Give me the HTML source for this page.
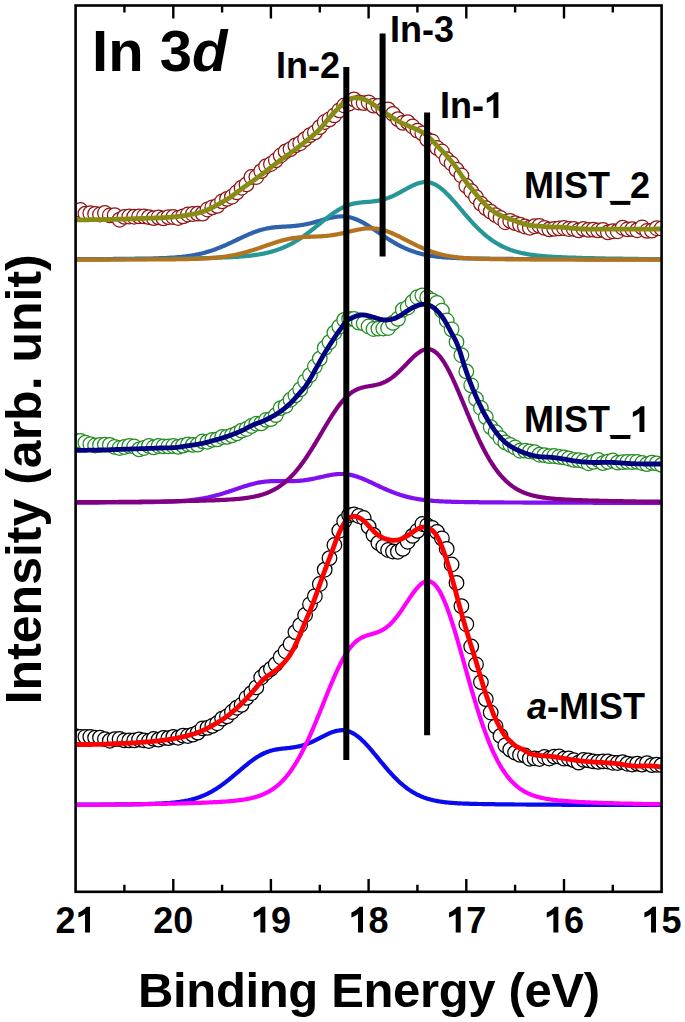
<!DOCTYPE html>
<html><head><meta charset="utf-8"><title>In 3d XPS</title>
<style>
html,body{margin:0;padding:0;background:#fff;}
svg{display:block;}
text{font-family:"Liberation Sans",sans-serif;font-weight:bold;fill:#000;}
</style></head>
<body>
<svg width="685" height="1022" viewBox="0 0 685 1022">
<rect x="0" y="0" width="685" height="1022" fill="#fff"/>
<defs><clipPath id="pc"><rect x="75.6" y="5.5" width="586" height="886.3"/></clipPath></defs>
<path d="M75.6 259.2 L76.6 259.1 L77.6 259.1 L78.6 259.1 L79.6 259.1 L80.6 259.1 L81.6 259.1 L82.6 259.1 L83.6 259.1 L84.6 259.1 L85.6 259.1 L86.6 259.1 L87.6 259.1 L88.6 259.1 L89.6 259.1 L90.6 259.1 L91.6 259.1 L92.6 259.1 L93.6 259.1 L94.6 259.1 L95.6 259.1 L96.6 259.1 L97.6 259.0 L98.6 259.0 L99.6 259.0 L100.6 259.0 L101.6 259.0 L102.6 259.0 L103.6 259.0 L104.6 259.0 L105.6 259.0 L106.6 259.0 L107.6 259.0 L108.6 259.0 L109.6 259.0 L110.6 259.0 L111.6 259.0 L112.6 259.0 L113.6 258.9 L114.6 258.9 L115.6 258.9 L116.6 258.9 L117.6 258.9 L118.6 258.9 L119.6 258.9 L120.6 258.9 L121.6 258.9 L122.6 258.9 L123.6 258.9 L124.6 258.9 L125.6 258.9 L126.6 258.8 L127.6 258.8 L128.6 258.8 L129.6 258.8 L130.6 258.8 L131.6 258.8 L132.6 258.8 L133.6 258.8 L134.6 258.8 L135.6 258.7 L136.6 258.7 L137.6 258.7 L138.6 258.7 L139.6 258.7 L140.6 258.7 L141.6 258.7 L142.6 258.6 L143.6 258.6 L144.6 258.6 L145.6 258.6 L146.6 258.6 L147.6 258.6 L148.6 258.5 L149.6 258.5 L150.6 258.5 L151.6 258.5 L152.6 258.5 L153.6 258.4 L154.6 258.4 L155.6 258.4 L156.6 258.3 L157.6 258.3 L158.6 258.3 L159.6 258.2 L160.6 258.2 L161.6 258.2 L162.6 258.1 L163.6 258.1 L164.6 258.1 L165.6 258.0 L166.6 258.0 L167.6 257.9 L168.6 257.9 L169.6 257.8 L170.6 257.7 L171.6 257.7 L172.6 257.6 L173.6 257.5 L174.6 257.5 L175.6 257.4 L176.6 257.3 L177.6 257.2 L178.6 257.1 L179.6 257.1 L180.6 257.0 L181.6 256.9 L182.6 256.7 L183.6 256.6 L184.6 256.5 L185.6 256.4 L186.6 256.3 L187.6 256.1 L188.6 256.0 L189.6 255.8 L190.6 255.7 L191.6 255.5 L192.6 255.3 L193.6 255.2 L194.6 255.0 L195.6 254.8 L196.6 254.6 L197.6 254.4 L198.6 254.2 L199.6 253.9 L200.6 253.7 L201.6 253.5 L202.6 253.2 L203.6 253.0 L204.6 252.7 L205.6 252.4 L206.6 252.1 L207.6 251.8 L208.6 251.5 L209.6 251.2 L210.6 250.9 L211.6 250.6 L212.6 250.2 L213.6 249.9 L214.6 249.5 L215.6 249.2 L216.6 248.8 L217.6 248.4 L218.6 248.0 L219.6 247.6 L220.6 247.2 L221.6 246.8 L222.6 246.4 L223.6 246.0 L224.6 245.5 L225.6 245.1 L226.6 244.6 L227.6 244.2 L228.6 243.7 L229.6 243.3 L230.6 242.8 L231.6 242.4 L232.6 241.9 L233.6 241.4 L234.6 240.9 L235.6 240.5 L236.6 240.0 L237.6 239.5 L238.6 239.0 L239.6 238.5 L240.6 238.1 L241.6 237.6 L242.6 237.1 L243.6 236.7 L244.6 236.2 L245.6 235.8 L246.6 235.3 L247.6 234.9 L248.6 234.4 L249.6 234.0 L250.6 233.6 L251.6 233.2 L252.6 232.8 L253.6 232.4 L254.6 232.0 L255.6 231.7 L256.6 231.3 L257.6 231.0 L258.6 230.6 L259.6 230.3 L260.6 230.0 L261.6 229.7 L262.6 229.5 L263.6 229.2 L264.6 229.0 L265.6 228.8 L266.6 228.5 L267.6 228.3 L268.6 228.2 L269.6 228.0 L270.6 227.8 L271.6 227.7 L272.6 227.6 L273.6 227.4 L274.6 227.3 L275.6 227.2 L276.6 227.1 L277.6 227.1 L278.6 227.0 L279.6 226.9 L280.6 226.8 L281.6 226.8 L282.6 226.7 L283.6 226.7 L284.6 226.6 L285.6 226.6 L286.6 226.5 L287.6 226.4 L288.6 226.4 L289.6 226.3 L290.6 226.3 L291.6 226.2 L292.6 226.1 L293.6 226.0 L294.6 225.9 L295.6 225.8 L296.6 225.7 L297.6 225.6 L298.6 225.5 L299.6 225.3 L300.6 225.2 L301.6 225.0 L302.6 224.9 L303.6 224.7 L304.6 224.5 L305.6 224.3 L306.6 224.1 L307.6 223.9 L308.6 223.7 L309.6 223.5 L310.6 223.2 L311.6 223.0 L312.6 222.7 L313.6 222.4 L314.6 222.2 L315.6 221.9 L316.6 221.6 L317.6 221.3 L318.6 221.0 L319.6 220.8 L320.6 220.5 L321.6 220.2 L322.6 219.9 L323.6 219.6 L324.6 219.3 L325.6 219.0 L326.6 218.8 L327.6 218.5 L328.6 218.3 L329.6 218.0 L330.6 217.8 L331.6 217.6 L332.6 217.4 L333.6 217.2 L334.6 217.0 L335.6 216.9 L336.6 216.7 L337.6 216.6 L338.6 216.5 L339.6 216.5 L340.6 216.4 L341.6 216.4 L342.6 216.4 L343.6 216.5 L344.6 216.5 L345.6 216.6 L346.6 216.7 L347.6 216.9 L348.6 217.1 L349.6 217.3 L350.6 217.5 L351.6 217.8 L352.6 218.1 L353.6 218.4 L354.6 218.8 L355.6 219.1 L356.6 219.5 L357.6 220.0 L358.6 220.4 L359.6 220.9 L360.6 221.4 L361.6 221.9 L362.6 222.4 L363.6 223.0 L364.6 223.5 L365.6 224.1 L366.6 224.7 L367.6 225.3 L368.6 226.0 L369.6 226.6 L370.6 227.2 L371.6 227.9 L372.6 228.6 L373.6 229.2 L374.6 229.9 L375.6 230.6 L376.6 231.3 L377.6 231.9 L378.6 232.6 L379.6 233.3 L380.6 234.0 L381.6 234.6 L382.6 235.3 L383.6 236.0 L384.6 236.7 L385.6 237.3 L386.6 238.0 L387.6 238.6 L388.6 239.3 L389.6 239.9 L390.6 240.5 L391.6 241.1 L392.6 241.7 L393.6 242.3 L394.6 242.9 L395.6 243.5 L396.6 244.0 L397.6 244.6 L398.6 245.1 L399.6 245.6 L400.6 246.2 L401.6 246.7 L402.6 247.1 L403.6 247.6 L404.6 248.1 L405.6 248.5 L406.6 248.9 L407.6 249.4 L408.6 249.8 L409.6 250.2 L410.6 250.5 L411.6 250.9 L412.6 251.3 L413.6 251.6 L414.6 251.9 L415.6 252.3 L416.6 252.6 L417.6 252.9 L418.6 253.1 L419.6 253.4 L420.6 253.7 L421.6 253.9 L422.6 254.2 L423.6 254.4 L424.6 254.6 L425.6 254.8 L426.6 255.0 L427.6 255.2 L428.6 255.4 L429.6 255.6 L430.6 255.7 L431.6 255.9 L432.6 256.0 L433.6 256.2 L434.6 256.3 L435.6 256.4 L436.6 256.6 L437.6 256.7 L438.6 256.8 L439.6 256.9 L440.6 257.0 L441.6 257.1 L442.6 257.2 L443.6 257.3 L444.6 257.3 L445.6 257.4 L446.6 257.5 L447.6 257.6 L448.6 257.6 L449.6 257.7 L450.6 257.7 L451.6 257.8 L452.6 257.9 L453.6 257.9 L454.6 257.9 L455.6 258.0 L456.6 258.0 L457.6 258.1 L458.6 258.1 L459.6 258.2 L460.6 258.2 L461.6 258.2 L462.6 258.3 L463.6 258.3 L464.6 258.3 L465.6 258.3 L466.6 258.4 L467.6 258.4 L468.6 258.4 L469.6 258.4 L470.6 258.5 L471.6 258.5 L472.6 258.5 L473.6 258.5 L474.6 258.5 L475.6 258.5 L476.6 258.6 L477.6 258.6 L478.6 258.6 L479.6 258.6 L480.6 258.6 L481.6 258.6 L482.6 258.7 L483.6 258.7 L484.6 258.7 L485.6 258.7 L486.6 258.7 L487.6 258.7 L488.6 258.7 L489.6 258.7 L490.6 258.8 L491.6 258.8 L492.6 258.8 L493.6 258.8 L494.6 258.8 L495.6 258.8 L496.6 258.8 L497.6 258.8 L498.6 258.8 L499.6 258.8 L500.6 258.9 L501.6 258.9 L502.6 258.9 L503.6 258.9 L504.6 258.9 L505.6 258.9 L506.6 258.9 L507.6 258.9 L508.6 258.9 L509.6 258.9 L510.6 258.9 L511.6 258.9 L512.6 258.9 L513.6 259.0 L514.6 259.0 L515.6 259.0 L516.6 259.0 L517.6 259.0 L518.6 259.0 L519.6 259.0 L520.6 259.0 L521.6 259.0 L522.6 259.0 L523.6 259.0 L524.6 259.0 L525.6 259.0 L526.6 259.0 L527.6 259.0 L528.6 259.0 L529.6 259.0 L530.6 259.1 L531.6 259.1 L532.6 259.1 L533.6 259.1 L534.6 259.1 L535.6 259.1 L536.6 259.1 L537.6 259.1 L538.6 259.1 L539.6 259.1 L540.6 259.1 L541.6 259.1 L542.6 259.1 L543.6 259.1 L544.6 259.1 L545.6 259.1 L546.6 259.1 L547.6 259.1 L548.6 259.1 L549.6 259.1 L550.6 259.1 L551.6 259.1 L552.6 259.2 L553.6 259.2 L554.6 259.2 L555.6 259.2 L556.6 259.2 L557.6 259.2 L558.6 259.2 L559.6 259.2 L560.6 259.2 L561.6 259.2 L562.6 259.2 L563.6 259.2 L564.6 259.2 L565.6 259.2 L566.6 259.2 L567.6 259.2 L568.6 259.2 L569.6 259.2 L570.6 259.2 L571.6 259.2 L572.6 259.2 L573.6 259.2 L574.6 259.2 L575.6 259.2 L576.6 259.2 L577.6 259.2 L578.6 259.2 L579.6 259.2 L580.6 259.2 L581.6 259.2 L582.6 259.2 L583.6 259.3 L584.6 259.3 L585.6 259.3 L586.6 259.3 L587.6 259.3 L588.6 259.3 L589.6 259.3 L590.6 259.3 L591.6 259.3 L592.6 259.3 L593.6 259.3 L594.6 259.3 L595.6 259.3 L596.6 259.3 L597.6 259.3 L598.6 259.3 L599.6 259.3 L600.6 259.3 L601.6 259.3 L602.6 259.3 L603.6 259.3 L604.6 259.3 L605.6 259.3 L606.6 259.3 L607.6 259.3 L608.6 259.3 L609.6 259.3 L610.6 259.3 L611.6 259.3 L612.6 259.3 L613.6 259.3 L614.6 259.3 L615.6 259.3 L616.6 259.3 L617.6 259.3 L618.6 259.3 L619.6 259.3 L620.6 259.3 L621.6 259.3 L622.6 259.3 L623.6 259.3 L624.6 259.3 L625.6 259.3 L626.6 259.3 L627.6 259.3 L628.6 259.3 L629.6 259.3 L630.6 259.3 L631.6 259.4 L632.6 259.4 L633.6 259.4 L634.6 259.4 L635.6 259.4 L636.6 259.4 L637.6 259.4 L638.6 259.4 L639.6 259.4 L640.6 259.4 L641.6 259.4 L642.6 259.4 L643.6 259.4 L644.6 259.4 L645.6 259.4 L646.6 259.4 L647.6 259.4 L648.6 259.4 L649.6 259.4 L650.6 259.4 L651.6 259.4 L652.6 259.4 L653.6 259.4 L654.6 259.4 L655.6 259.4 L656.6 259.4 L657.6 259.4 L658.6 259.4 L659.6 259.4 L660.6 259.4 L661.6 259.4" fill="none" stroke="#2e62ac" stroke-width="4.2" stroke-linejoin="round" stroke-linecap="butt"/>
<path d="M75.6 259.6 L76.6 259.5 L77.6 259.5 L78.6 259.5 L79.6 259.5 L80.6 259.5 L81.6 259.5 L82.6 259.5 L83.6 259.5 L84.6 259.5 L85.6 259.5 L86.6 259.5 L87.6 259.5 L88.6 259.5 L89.6 259.5 L90.6 259.5 L91.6 259.5 L92.6 259.5 L93.6 259.5 L94.6 259.5 L95.6 259.4 L96.6 259.4 L97.6 259.4 L98.6 259.4 L99.6 259.4 L100.6 259.4 L101.6 259.4 L102.6 259.4 L103.6 259.4 L104.6 259.4 L105.6 259.4 L106.6 259.4 L107.6 259.4 L108.6 259.4 L109.6 259.4 L110.6 259.4 L111.6 259.3 L112.6 259.3 L113.6 259.3 L114.6 259.3 L115.6 259.3 L116.6 259.3 L117.6 259.3 L118.6 259.3 L119.6 259.3 L120.6 259.3 L121.6 259.3 L122.6 259.3 L123.6 259.3 L124.6 259.3 L125.6 259.2 L126.6 259.2 L127.6 259.2 L128.6 259.2 L129.6 259.2 L130.6 259.2 L131.6 259.2 L132.6 259.2 L133.6 259.2 L134.6 259.2 L135.6 259.2 L136.6 259.1 L137.6 259.1 L138.6 259.1 L139.6 259.1 L140.6 259.1 L141.6 259.1 L142.6 259.1 L143.6 259.1 L144.6 259.1 L145.6 259.1 L146.6 259.0 L147.6 259.0 L148.6 259.0 L149.6 259.0 L150.6 259.0 L151.6 259.0 L152.6 259.0 L153.6 259.0 L154.6 259.0 L155.6 259.0 L156.6 258.9 L157.6 258.9 L158.6 258.9 L159.6 258.9 L160.6 258.9 L161.6 258.9 L162.6 258.9 L163.6 258.9 L164.6 258.8 L165.6 258.8 L166.6 258.8 L167.6 258.8 L168.6 258.8 L169.6 258.8 L170.6 258.8 L171.6 258.7 L172.6 258.7 L173.6 258.7 L174.6 258.7 L175.6 258.7 L176.6 258.7 L177.6 258.7 L178.6 258.6 L179.6 258.6 L180.6 258.6 L181.6 258.6 L182.6 258.6 L183.6 258.6 L184.6 258.5 L185.6 258.5 L186.6 258.5 L187.6 258.5 L188.6 258.5 L189.6 258.4 L190.6 258.4 L191.6 258.4 L192.6 258.4 L193.6 258.4 L194.6 258.3 L195.6 258.3 L196.6 258.3 L197.6 258.3 L198.6 258.3 L199.6 258.2 L200.6 258.2 L201.6 258.2 L202.6 258.2 L203.6 258.1 L204.6 258.1 L205.6 258.1 L206.6 258.1 L207.6 258.0 L208.6 258.0 L209.6 258.0 L210.6 257.9 L211.6 257.9 L212.6 257.9 L213.6 257.9 L214.6 257.8 L215.6 257.8 L216.6 257.8 L217.6 257.7 L218.6 257.7 L219.6 257.7 L220.6 257.6 L221.6 257.6 L222.6 257.5 L223.6 257.5 L224.6 257.5 L225.6 257.4 L226.6 257.4 L227.6 257.3 L228.6 257.3 L229.6 257.2 L230.6 257.2 L231.6 257.1 L232.6 257.1 L233.6 257.0 L234.6 256.9 L235.6 256.9 L236.6 256.8 L237.6 256.8 L238.6 256.7 L239.6 256.6 L240.6 256.5 L241.6 256.5 L242.6 256.4 L243.6 256.3 L244.6 256.2 L245.6 256.1 L246.6 256.0 L247.6 255.9 L248.6 255.8 L249.6 255.7 L250.6 255.6 L251.6 255.5 L252.6 255.3 L253.6 255.2 L254.6 255.1 L255.6 254.9 L256.6 254.8 L257.6 254.6 L258.6 254.5 L259.6 254.3 L260.6 254.1 L261.6 253.9 L262.6 253.8 L263.6 253.6 L264.6 253.4 L265.6 253.1 L266.6 252.9 L267.6 252.7 L268.6 252.4 L269.6 252.2 L270.6 251.9 L271.6 251.6 L272.6 251.4 L273.6 251.1 L274.6 250.8 L275.6 250.4 L276.6 250.1 L277.6 249.8 L278.6 249.4 L279.6 249.0 L280.6 248.7 L281.6 248.3 L282.6 247.9 L283.6 247.4 L284.6 247.0 L285.6 246.5 L286.6 246.1 L287.6 245.6 L288.6 245.1 L289.6 244.6 L290.6 244.1 L291.6 243.6 L292.6 243.0 L293.6 242.5 L294.6 241.9 L295.6 241.3 L296.6 240.7 L297.6 240.1 L298.6 239.5 L299.6 238.8 L300.6 238.2 L301.6 237.5 L302.6 236.8 L303.6 236.1 L304.6 235.4 L305.6 234.7 L306.6 234.0 L307.6 233.2 L308.6 232.5 L309.6 231.7 L310.6 231.0 L311.6 230.2 L312.6 229.4 L313.6 228.6 L314.6 227.8 L315.6 227.0 L316.6 226.2 L317.6 225.4 L318.6 224.6 L319.6 223.8 L320.6 223.0 L321.6 222.2 L322.6 221.4 L323.6 220.6 L324.6 219.8 L325.6 219.0 L326.6 218.2 L327.6 217.4 L328.6 216.7 L329.6 215.9 L330.6 215.2 L331.6 214.4 L332.6 213.7 L333.6 213.0 L334.6 212.3 L335.6 211.7 L336.6 211.0 L337.6 210.4 L338.6 209.8 L339.6 209.2 L340.6 208.6 L341.6 208.1 L342.6 207.6 L343.6 207.1 L344.6 206.6 L345.6 206.2 L346.6 205.8 L347.6 205.4 L348.6 205.0 L349.6 204.7 L350.6 204.4 L351.6 204.1 L352.6 203.9 L353.6 203.6 L354.6 203.4 L355.6 203.2 L356.6 203.1 L357.6 202.9 L358.6 202.8 L359.6 202.6 L360.6 202.5 L361.6 202.4 L362.6 202.3 L363.6 202.2 L364.6 202.1 L365.6 202.1 L366.6 202.0 L367.6 201.9 L368.6 201.8 L369.6 201.8 L370.6 201.7 L371.6 201.6 L372.6 201.5 L373.6 201.3 L374.6 201.2 L375.6 201.1 L376.6 200.9 L377.6 200.8 L378.6 200.6 L379.6 200.4 L380.6 200.2 L381.6 199.9 L382.6 199.7 L383.6 199.4 L384.6 199.1 L385.6 198.8 L386.6 198.5 L387.6 198.1 L388.6 197.8 L389.6 197.4 L390.6 197.0 L391.6 196.5 L392.6 196.1 L393.6 195.6 L394.6 195.2 L395.6 194.7 L396.6 194.2 L397.6 193.7 L398.6 193.1 L399.6 192.6 L400.6 192.0 L401.6 191.5 L402.6 190.9 L403.6 190.4 L404.6 189.8 L405.6 189.3 L406.6 188.7 L407.6 188.2 L408.6 187.6 L409.6 187.1 L410.6 186.6 L411.6 186.1 L412.6 185.6 L413.6 185.1 L414.6 184.7 L415.6 184.3 L416.6 183.9 L417.6 183.5 L418.6 183.2 L419.6 182.9 L420.6 182.7 L421.6 182.5 L422.6 182.3 L423.6 182.2 L424.6 182.1 L425.6 182.1 L426.6 182.1 L427.6 182.2 L428.6 182.4 L429.6 182.6 L430.6 182.8 L431.6 183.1 L432.6 183.5 L433.6 183.9 L434.6 184.3 L435.6 184.8 L436.6 185.4 L437.6 186.0 L438.6 186.6 L439.6 187.3 L440.6 188.1 L441.6 188.9 L442.6 189.7 L443.6 190.6 L444.6 191.5 L445.6 192.4 L446.6 193.4 L447.6 194.4 L448.6 195.4 L449.6 196.5 L450.6 197.6 L451.6 198.7 L452.6 199.8 L453.6 200.9 L454.6 202.0 L455.6 203.2 L456.6 204.4 L457.6 205.5 L458.6 206.7 L459.6 207.9 L460.6 209.1 L461.6 210.2 L462.6 211.4 L463.6 212.6 L464.6 213.8 L465.6 214.9 L466.6 216.1 L467.6 217.2 L468.6 218.4 L469.6 219.5 L470.6 220.6 L471.6 221.7 L472.6 222.8 L473.6 223.9 L474.6 224.9 L475.6 226.0 L476.6 227.0 L477.6 228.0 L478.6 229.0 L479.6 230.0 L480.6 230.9 L481.6 231.8 L482.6 232.7 L483.6 233.6 L484.6 234.5 L485.6 235.3 L486.6 236.2 L487.6 237.0 L488.6 237.7 L489.6 238.5 L490.6 239.2 L491.6 240.0 L492.6 240.7 L493.6 241.3 L494.6 242.0 L495.6 242.6 L496.6 243.2 L497.6 243.8 L498.6 244.4 L499.6 245.0 L500.6 245.5 L501.6 246.0 L502.6 246.5 L503.6 247.0 L504.6 247.4 L505.6 247.9 L506.6 248.3 L507.6 248.7 L508.6 249.1 L509.6 249.5 L510.6 249.9 L511.6 250.2 L512.6 250.6 L513.6 250.9 L514.6 251.2 L515.6 251.5 L516.6 251.8 L517.6 252.0 L518.6 252.3 L519.6 252.5 L520.6 252.8 L521.6 253.0 L522.6 253.2 L523.6 253.4 L524.6 253.6 L525.6 253.8 L526.6 254.0 L527.6 254.2 L528.6 254.3 L529.6 254.5 L530.6 254.7 L531.6 254.8 L532.6 254.9 L533.6 255.1 L534.6 255.2 L535.6 255.3 L536.6 255.4 L537.6 255.5 L538.6 255.7 L539.6 255.8 L540.6 255.9 L541.6 255.9 L542.6 256.0 L543.6 256.1 L544.6 256.2 L545.6 256.3 L546.6 256.4 L547.6 256.4 L548.6 256.5 L549.6 256.6 L550.6 256.6 L551.6 256.7 L552.6 256.8 L553.6 256.8 L554.6 256.9 L555.6 256.9 L556.6 257.0 L557.6 257.0 L558.6 257.1 L559.6 257.1 L560.6 257.2 L561.6 257.2 L562.6 257.3 L563.6 257.3 L564.6 257.4 L565.6 257.4 L566.6 257.4 L567.6 257.5 L568.6 257.5 L569.6 257.5 L570.6 257.6 L571.6 257.6 L572.6 257.7 L573.6 257.7 L574.6 257.7 L575.6 257.7 L576.6 257.8 L577.6 257.8 L578.6 257.8 L579.6 257.9 L580.6 257.9 L581.6 257.9 L582.6 258.0 L583.6 258.0 L584.6 258.0 L585.6 258.0 L586.6 258.1 L587.6 258.1 L588.6 258.1 L589.6 258.1 L590.6 258.2 L591.6 258.2 L592.6 258.2 L593.6 258.2 L594.6 258.2 L595.6 258.3 L596.6 258.3 L597.6 258.3 L598.6 258.3 L599.6 258.3 L600.6 258.4 L601.6 258.4 L602.6 258.4 L603.6 258.4 L604.6 258.4 L605.6 258.5 L606.6 258.5 L607.6 258.5 L608.6 258.5 L609.6 258.5 L610.6 258.6 L611.6 258.6 L612.6 258.6 L613.6 258.6 L614.6 258.6 L615.6 258.6 L616.6 258.7 L617.6 258.7 L618.6 258.7 L619.6 258.7 L620.6 258.7 L621.6 258.7 L622.6 258.7 L623.6 258.8 L624.6 258.8 L625.6 258.8 L626.6 258.8 L627.6 258.8 L628.6 258.8 L629.6 258.8 L630.6 258.9 L631.6 258.9 L632.6 258.9 L633.6 258.9 L634.6 258.9 L635.6 258.9 L636.6 258.9 L637.6 258.9 L638.6 258.9 L639.6 259.0 L640.6 259.0 L641.6 259.0 L642.6 259.0 L643.6 259.0 L644.6 259.0 L645.6 259.0 L646.6 259.0 L647.6 259.0 L648.6 259.1 L649.6 259.1 L650.6 259.1 L651.6 259.1 L652.6 259.1 L653.6 259.1 L654.6 259.1 L655.6 259.1 L656.6 259.1 L657.6 259.1 L658.6 259.2 L659.6 259.2 L660.6 259.2 L661.6 259.2" fill="none" stroke="#289696" stroke-width="4.2" stroke-linejoin="round" stroke-linecap="butt"/>
<path d="M75.6 259.6 L76.6 259.6 L77.6 259.6 L78.6 259.6 L79.6 259.6 L80.6 259.6 L81.6 259.6 L82.6 259.6 L83.6 259.6 L84.6 259.6 L85.6 259.6 L86.6 259.6 L87.6 259.6 L88.6 259.6 L89.6 259.6 L90.6 259.6 L91.6 259.6 L92.6 259.6 L93.6 259.6 L94.6 259.6 L95.6 259.6 L96.6 259.6 L97.6 259.6 L98.6 259.6 L99.6 259.6 L100.6 259.6 L101.6 259.6 L102.6 259.6 L103.6 259.6 L104.6 259.6 L105.6 259.6 L106.6 259.6 L107.6 259.6 L108.6 259.6 L109.6 259.6 L110.6 259.5 L111.6 259.5 L112.6 259.5 L113.6 259.5 L114.6 259.5 L115.6 259.5 L116.6 259.5 L117.6 259.5 L118.6 259.5 L119.6 259.5 L120.6 259.5 L121.6 259.5 L122.6 259.5 L123.6 259.5 L124.6 259.5 L125.6 259.5 L126.6 259.5 L127.6 259.5 L128.6 259.5 L129.6 259.5 L130.6 259.5 L131.6 259.5 L132.6 259.5 L133.6 259.5 L134.6 259.5 L135.6 259.5 L136.6 259.5 L137.6 259.5 L138.6 259.5 L139.6 259.5 L140.6 259.5 L141.6 259.5 L142.6 259.5 L143.6 259.5 L144.6 259.4 L145.6 259.4 L146.6 259.4 L147.6 259.4 L148.6 259.4 L149.6 259.4 L150.6 259.4 L151.6 259.4 L152.6 259.4 L153.6 259.4 L154.6 259.4 L155.6 259.4 L156.6 259.4 L157.6 259.4 L158.6 259.4 L159.6 259.4 L160.6 259.4 L161.6 259.4 L162.6 259.4 L163.6 259.4 L164.6 259.3 L165.6 259.3 L166.6 259.3 L167.6 259.3 L168.6 259.3 L169.6 259.3 L170.6 259.3 L171.6 259.3 L172.6 259.3 L173.6 259.3 L174.6 259.3 L175.6 259.3 L176.6 259.2 L177.6 259.2 L178.6 259.2 L179.6 259.2 L180.6 259.2 L181.6 259.2 L182.6 259.2 L183.6 259.1 L184.6 259.1 L185.6 259.1 L186.6 259.1 L187.6 259.1 L188.6 259.1 L189.6 259.0 L190.6 259.0 L191.6 259.0 L192.6 259.0 L193.6 258.9 L194.6 258.9 L195.6 258.9 L196.6 258.8 L197.6 258.8 L198.6 258.8 L199.6 258.7 L200.6 258.7 L201.6 258.6 L202.6 258.6 L203.6 258.6 L204.6 258.5 L205.6 258.5 L206.6 258.4 L207.6 258.3 L208.6 258.3 L209.6 258.2 L210.6 258.1 L211.6 258.1 L212.6 258.0 L213.6 257.9 L214.6 257.8 L215.6 257.7 L216.6 257.6 L217.6 257.5 L218.6 257.4 L219.6 257.3 L220.6 257.2 L221.6 257.1 L222.6 257.0 L223.6 256.8 L224.6 256.7 L225.6 256.5 L226.6 256.4 L227.6 256.2 L228.6 256.1 L229.6 255.9 L230.6 255.7 L231.6 255.6 L232.6 255.4 L233.6 255.2 L234.6 255.0 L235.6 254.8 L236.6 254.5 L237.6 254.3 L238.6 254.1 L239.6 253.9 L240.6 253.6 L241.6 253.4 L242.6 253.1 L243.6 252.8 L244.6 252.6 L245.6 252.3 L246.6 252.0 L247.6 251.7 L248.6 251.4 L249.6 251.1 L250.6 250.8 L251.6 250.5 L252.6 250.2 L253.6 249.9 L254.6 249.6 L255.6 249.2 L256.6 248.9 L257.6 248.6 L258.6 248.2 L259.6 247.9 L260.6 247.5 L261.6 247.2 L262.6 246.8 L263.6 246.5 L264.6 246.1 L265.6 245.8 L266.6 245.4 L267.6 245.1 L268.6 244.7 L269.6 244.4 L270.6 244.1 L271.6 243.7 L272.6 243.4 L273.6 243.1 L274.6 242.7 L275.6 242.4 L276.6 242.1 L277.6 241.8 L278.6 241.5 L279.6 241.2 L280.6 240.9 L281.6 240.6 L282.6 240.4 L283.6 240.1 L284.6 239.8 L285.6 239.6 L286.6 239.4 L287.6 239.2 L288.6 238.9 L289.6 238.7 L290.6 238.6 L291.6 238.4 L292.6 238.2 L293.6 238.1 L294.6 237.9 L295.6 237.8 L296.6 237.7 L297.6 237.5 L298.6 237.4 L299.6 237.3 L300.6 237.3 L301.6 237.2 L302.6 237.1 L303.6 237.0 L304.6 237.0 L305.6 236.9 L306.6 236.9 L307.6 236.9 L308.6 236.8 L309.6 236.8 L310.6 236.7 L311.6 236.7 L312.6 236.7 L313.6 236.6 L314.6 236.6 L315.6 236.6 L316.6 236.5 L317.6 236.5 L318.6 236.4 L319.6 236.4 L320.6 236.3 L321.6 236.3 L322.6 236.2 L323.6 236.1 L324.6 236.0 L325.6 236.0 L326.6 235.9 L327.6 235.8 L328.6 235.6 L329.6 235.5 L330.6 235.4 L331.6 235.2 L332.6 235.1 L333.6 234.9 L334.6 234.8 L335.6 234.6 L336.6 234.4 L337.6 234.2 L338.6 234.0 L339.6 233.8 L340.6 233.6 L341.6 233.4 L342.6 233.2 L343.6 233.0 L344.6 232.7 L345.6 232.5 L346.6 232.3 L347.6 232.0 L348.6 231.8 L349.6 231.5 L350.6 231.3 L351.6 231.1 L352.6 230.8 L353.6 230.6 L354.6 230.4 L355.6 230.2 L356.6 229.9 L357.6 229.7 L358.6 229.5 L359.6 229.4 L360.6 229.2 L361.6 229.0 L362.6 228.9 L363.6 228.7 L364.6 228.6 L365.6 228.5 L366.6 228.4 L367.6 228.4 L368.6 228.3 L369.6 228.3 L370.6 228.3 L371.6 228.3 L372.6 228.3 L373.6 228.4 L374.6 228.5 L375.6 228.6 L376.6 228.7 L377.6 228.8 L378.6 229.0 L379.6 229.2 L380.6 229.4 L381.6 229.6 L382.6 229.9 L383.6 230.2 L384.6 230.5 L385.6 230.8 L386.6 231.1 L387.6 231.5 L388.6 231.8 L389.6 232.2 L390.6 232.6 L391.6 233.0 L392.6 233.5 L393.6 233.9 L394.6 234.3 L395.6 234.8 L396.6 235.3 L397.6 235.8 L398.6 236.2 L399.6 236.7 L400.6 237.2 L401.6 237.8 L402.6 238.3 L403.6 238.8 L404.6 239.3 L405.6 239.8 L406.6 240.3 L407.6 240.8 L408.6 241.4 L409.6 241.9 L410.6 242.4 L411.6 242.9 L412.6 243.4 L413.6 243.9 L414.6 244.4 L415.6 244.9 L416.6 245.4 L417.6 245.9 L418.6 246.3 L419.6 246.8 L420.6 247.2 L421.6 247.7 L422.6 248.1 L423.6 248.6 L424.6 249.0 L425.6 249.4 L426.6 249.8 L427.6 250.2 L428.6 250.6 L429.6 250.9 L430.6 251.3 L431.6 251.6 L432.6 252.0 L433.6 252.3 L434.6 252.6 L435.6 252.9 L436.6 253.2 L437.6 253.5 L438.6 253.8 L439.6 254.1 L440.6 254.3 L441.6 254.6 L442.6 254.8 L443.6 255.0 L444.6 255.2 L445.6 255.5 L446.6 255.7 L447.6 255.8 L448.6 256.0 L449.6 256.2 L450.6 256.4 L451.6 256.5 L452.6 256.7 L453.6 256.8 L454.6 257.0 L455.6 257.1 L456.6 257.2 L457.6 257.3 L458.6 257.5 L459.6 257.6 L460.6 257.7 L461.6 257.8 L462.6 257.8 L463.6 257.9 L464.6 258.0 L465.6 258.1 L466.6 258.2 L467.6 258.2 L468.6 258.3 L469.6 258.4 L470.6 258.4 L471.6 258.5 L472.6 258.5 L473.6 258.6 L474.6 258.6 L475.6 258.7 L476.6 258.7 L477.6 258.7 L478.6 258.8 L479.6 258.8 L480.6 258.8 L481.6 258.9 L482.6 258.9 L483.6 258.9 L484.6 258.9 L485.6 259.0 L486.6 259.0 L487.6 259.0 L488.6 259.0 L489.6 259.1 L490.6 259.1 L491.6 259.1 L492.6 259.1 L493.6 259.1 L494.6 259.1 L495.6 259.1 L496.6 259.2 L497.6 259.2 L498.6 259.2 L499.6 259.2 L500.6 259.2 L501.6 259.2 L502.6 259.2 L503.6 259.2 L504.6 259.2 L505.6 259.3 L506.6 259.3 L507.6 259.3 L508.6 259.3 L509.6 259.3 L510.6 259.3 L511.6 259.3 L512.6 259.3 L513.6 259.3 L514.6 259.3 L515.6 259.3 L516.6 259.3 L517.6 259.3 L518.6 259.3 L519.6 259.4 L520.6 259.4 L521.6 259.4 L522.6 259.4 L523.6 259.4 L524.6 259.4 L525.6 259.4 L526.6 259.4 L527.6 259.4 L528.6 259.4 L529.6 259.4 L530.6 259.4 L531.6 259.4 L532.6 259.4 L533.6 259.4 L534.6 259.4 L535.6 259.4 L536.6 259.4 L537.6 259.4 L538.6 259.4 L539.6 259.4 L540.6 259.5 L541.6 259.5 L542.6 259.5 L543.6 259.5 L544.6 259.5 L545.6 259.5 L546.6 259.5 L547.6 259.5 L548.6 259.5 L549.6 259.5 L550.6 259.5 L551.6 259.5 L552.6 259.5 L553.6 259.5 L554.6 259.5 L555.6 259.5 L556.6 259.5 L557.6 259.5 L558.6 259.5 L559.6 259.5 L560.6 259.5 L561.6 259.5 L562.6 259.5 L563.6 259.5 L564.6 259.5 L565.6 259.5 L566.6 259.5 L567.6 259.5 L568.6 259.5 L569.6 259.5 L570.6 259.5 L571.6 259.5 L572.6 259.5 L573.6 259.5 L574.6 259.5 L575.6 259.6 L576.6 259.6 L577.6 259.6 L578.6 259.6 L579.6 259.6 L580.6 259.6 L581.6 259.6 L582.6 259.6 L583.6 259.6 L584.6 259.6 L585.6 259.6 L586.6 259.6 L587.6 259.6 L588.6 259.6 L589.6 259.6 L590.6 259.6 L591.6 259.6 L592.6 259.6 L593.6 259.6 L594.6 259.6 L595.6 259.6 L596.6 259.6 L597.6 259.6 L598.6 259.6 L599.6 259.6 L600.6 259.6 L601.6 259.6 L602.6 259.6 L603.6 259.6 L604.6 259.6 L605.6 259.6 L606.6 259.6 L607.6 259.6 L608.6 259.6 L609.6 259.6 L610.6 259.6 L611.6 259.6 L612.6 259.6 L613.6 259.6 L614.6 259.6 L615.6 259.6 L616.6 259.6 L617.6 259.6 L618.6 259.6 L619.6 259.6 L620.6 259.6 L621.6 259.6 L622.6 259.6 L623.6 259.6 L624.6 259.6 L625.6 259.6 L626.6 259.6 L627.6 259.6 L628.6 259.6 L629.6 259.6 L630.6 259.6 L631.6 259.6 L632.6 259.6 L633.6 259.6 L634.6 259.6 L635.6 259.6 L636.6 259.6 L637.6 259.6 L638.6 259.6 L639.6 259.6 L640.6 259.7 L641.6 259.7 L642.6 259.7 L643.6 259.7 L644.6 259.7 L645.6 259.7 L646.6 259.7 L647.6 259.7 L648.6 259.7 L649.6 259.7 L650.6 259.7 L651.6 259.7 L652.6 259.7 L653.6 259.7 L654.6 259.7 L655.6 259.7 L656.6 259.7 L657.6 259.7 L658.6 259.7 L659.6 259.7 L660.6 259.7 L661.6 259.7" fill="none" stroke="#b4731e" stroke-width="4.2" stroke-linejoin="round" stroke-linecap="butt"/>
<g fill="#fff" stroke="#8c1515" stroke-width="1.25" clip-path="url(#pc)"><circle cx="75.6" cy="214.1" r="7.3"/><circle cx="80.5" cy="210.0" r="7.3"/><circle cx="85.4" cy="213.6" r="7.3"/><circle cx="90.3" cy="213.2" r="7.3"/><circle cx="95.1" cy="213.9" r="7.3"/><circle cx="100.0" cy="214.5" r="7.3"/><circle cx="104.9" cy="213.0" r="7.3"/><circle cx="109.8" cy="215.3" r="7.3"/><circle cx="114.7" cy="215.1" r="7.3"/><circle cx="119.6" cy="219.7" r="7.3"/><circle cx="124.4" cy="216.9" r="7.3"/><circle cx="129.3" cy="216.5" r="7.3"/><circle cx="134.2" cy="216.7" r="7.3"/><circle cx="139.1" cy="216.4" r="7.3"/><circle cx="144.0" cy="216.3" r="7.3"/><circle cx="148.9" cy="217.1" r="7.3"/><circle cx="153.7" cy="218.1" r="7.3"/><circle cx="158.6" cy="217.3" r="7.3"/><circle cx="163.5" cy="218.4" r="7.3"/><circle cx="168.4" cy="217.1" r="7.3"/><circle cx="173.3" cy="217.0" r="7.3"/><circle cx="178.2" cy="218.0" r="7.3"/><circle cx="183.0" cy="216.3" r="7.3"/><circle cx="187.9" cy="214.5" r="7.3"/><circle cx="192.8" cy="214.0" r="7.3"/><circle cx="197.7" cy="213.6" r="7.3"/><circle cx="202.6" cy="213.6" r="7.3"/><circle cx="207.5" cy="209.5" r="7.3"/><circle cx="212.3" cy="207.3" r="7.3"/><circle cx="217.2" cy="205.9" r="7.3"/><circle cx="222.1" cy="201.3" r="7.3"/><circle cx="227.0" cy="198.9" r="7.3"/><circle cx="231.9" cy="196.7" r="7.3"/><circle cx="236.8" cy="192.3" r="7.3"/><circle cx="241.6" cy="187.7" r="7.3"/><circle cx="246.5" cy="184.4" r="7.3"/><circle cx="251.4" cy="177.0" r="7.3"/><circle cx="256.3" cy="177.0" r="7.3"/><circle cx="261.2" cy="171.1" r="7.3"/><circle cx="266.1" cy="166.2" r="7.3"/><circle cx="270.9" cy="164.0" r="7.3"/><circle cx="275.8" cy="160.3" r="7.3"/><circle cx="280.7" cy="155.5" r="7.3"/><circle cx="285.6" cy="151.4" r="7.3"/><circle cx="290.5" cy="149.1" r="7.3"/><circle cx="295.4" cy="145.4" r="7.3"/><circle cx="300.2" cy="143.2" r="7.3"/><circle cx="305.1" cy="139.1" r="7.3"/><circle cx="310.0" cy="135.1" r="7.3"/><circle cx="314.9" cy="132.4" r="7.3"/><circle cx="319.8" cy="127.1" r="7.3"/><circle cx="324.7" cy="122.0" r="7.3"/><circle cx="329.5" cy="119.3" r="7.3"/><circle cx="334.4" cy="115.3" r="7.3"/><circle cx="339.3" cy="110.3" r="7.3"/><circle cx="344.2" cy="105.5" r="7.3"/><circle cx="349.1" cy="103.6" r="7.3"/><circle cx="354.0" cy="99.4" r="7.3"/><circle cx="358.8" cy="102.5" r="7.3"/><circle cx="363.7" cy="103.1" r="7.3"/><circle cx="368.6" cy="102.3" r="7.3"/><circle cx="373.5" cy="105.6" r="7.3"/><circle cx="378.4" cy="106.0" r="7.3"/><circle cx="383.3" cy="109.6" r="7.3"/><circle cx="388.1" cy="109.4" r="7.3"/><circle cx="393.0" cy="113.9" r="7.3"/><circle cx="397.9" cy="119.1" r="7.3"/><circle cx="402.8" cy="122.8" r="7.3"/><circle cx="407.7" cy="122.1" r="7.3"/><circle cx="412.6" cy="126.5" r="7.3"/><circle cx="417.4" cy="130.6" r="7.3"/><circle cx="422.3" cy="133.3" r="7.3"/><circle cx="427.2" cy="139.4" r="7.3"/><circle cx="432.1" cy="141.3" r="7.3"/><circle cx="437.0" cy="147.8" r="7.3"/><circle cx="441.9" cy="151.5" r="7.3"/><circle cx="446.7" cy="159.2" r="7.3"/><circle cx="451.6" cy="163.5" r="7.3"/><circle cx="456.5" cy="169.6" r="7.3"/><circle cx="461.4" cy="175.5" r="7.3"/><circle cx="466.3" cy="185.9" r="7.3"/><circle cx="471.2" cy="191.1" r="7.3"/><circle cx="476.0" cy="197.2" r="7.3"/><circle cx="480.9" cy="203.6" r="7.3"/><circle cx="485.8" cy="208.1" r="7.3"/><circle cx="490.7" cy="211.6" r="7.3"/><circle cx="495.6" cy="215.1" r="7.3"/><circle cx="500.5" cy="218.0" r="7.3"/><circle cx="505.3" cy="222.2" r="7.3"/><circle cx="510.2" cy="220.9" r="7.3"/><circle cx="515.1" cy="223.1" r="7.3"/><circle cx="520.0" cy="224.7" r="7.3"/><circle cx="524.9" cy="226.5" r="7.3"/><circle cx="529.8" cy="227.7" r="7.3"/><circle cx="534.6" cy="226.2" r="7.3"/><circle cx="539.5" cy="225.9" r="7.3"/><circle cx="544.4" cy="227.8" r="7.3"/><circle cx="549.3" cy="229.3" r="7.3"/><circle cx="554.2" cy="228.8" r="7.3"/><circle cx="559.1" cy="228.3" r="7.3"/><circle cx="564.0" cy="228.0" r="7.3"/><circle cx="568.8" cy="229.0" r="7.3"/><circle cx="573.7" cy="228.9" r="7.3"/><circle cx="578.6" cy="230.3" r="7.3"/><circle cx="583.5" cy="228.9" r="7.3"/><circle cx="588.4" cy="229.9" r="7.3"/><circle cx="593.3" cy="229.6" r="7.3"/><circle cx="598.1" cy="230.3" r="7.3"/><circle cx="603.0" cy="229.9" r="7.3"/><circle cx="607.9" cy="232.3" r="7.3"/><circle cx="612.8" cy="231.2" r="7.3"/><circle cx="617.7" cy="231.2" r="7.3"/><circle cx="622.6" cy="227.7" r="7.3"/><circle cx="627.4" cy="229.3" r="7.3"/><circle cx="632.3" cy="229.1" r="7.3"/><circle cx="637.2" cy="230.2" r="7.3"/><circle cx="642.1" cy="227.3" r="7.3"/><circle cx="647.0" cy="230.8" r="7.3"/><circle cx="651.9" cy="230.6" r="7.3"/><circle cx="656.7" cy="228.2" r="7.3"/><circle cx="661.6" cy="228.5" r="7.3"/></g>
<path d="M75.6 219.9 L76.6 219.9 L77.6 219.9 L78.6 219.9 L79.6 219.9 L80.6 219.8 L81.6 219.8 L82.6 219.8 L83.6 219.8 L84.6 219.8 L85.6 219.8 L86.6 219.8 L87.6 219.8 L88.6 219.8 L89.6 219.7 L90.6 219.7 L91.6 219.7 L92.6 219.7 L93.6 219.7 L94.6 219.7 L95.6 219.7 L96.6 219.6 L97.6 219.6 L98.6 219.6 L99.6 219.6 L100.6 219.6 L101.6 219.6 L102.6 219.6 L103.6 219.5 L104.6 219.5 L105.6 219.5 L106.6 219.5 L107.6 219.5 L108.6 219.5 L109.6 219.4 L110.6 219.4 L111.6 219.4 L112.6 219.4 L113.6 219.4 L114.6 219.3 L115.6 219.3 L116.6 219.3 L117.6 219.3 L118.6 219.2 L119.6 219.2 L120.6 219.2 L121.6 219.1 L122.6 219.1 L123.6 219.1 L124.6 219.1 L125.6 219.0 L126.6 219.0 L127.6 218.9 L128.6 218.9 L129.6 218.9 L130.6 218.8 L131.6 218.8 L132.6 218.8 L133.6 218.7 L134.6 218.7 L135.6 218.7 L136.6 218.6 L137.6 218.6 L138.6 218.6 L139.6 218.5 L140.6 218.5 L141.6 218.5 L142.6 218.4 L143.6 218.4 L144.6 218.4 L145.6 218.3 L146.6 218.3 L147.6 218.3 L148.6 218.2 L149.6 218.2 L150.6 218.2 L151.6 218.1 L152.6 218.1 L153.6 218.1 L154.6 218.0 L155.6 218.0 L156.6 217.9 L157.6 217.9 L158.6 217.9 L159.6 217.8 L160.6 217.8 L161.6 217.7 L162.6 217.7 L163.6 217.6 L164.6 217.6 L165.6 217.5 L166.6 217.5 L167.6 217.4 L168.6 217.3 L169.6 217.3 L170.6 217.2 L171.6 217.1 L172.6 217.0 L173.6 216.9 L174.6 216.8 L175.6 216.7 L176.6 216.6 L177.6 216.5 L178.6 216.4 L179.6 216.3 L180.6 216.1 L181.6 216.0 L182.6 215.9 L183.6 215.7 L184.6 215.6 L185.6 215.4 L186.6 215.2 L187.6 215.1 L188.6 214.9 L189.6 214.7 L190.6 214.5 L191.6 214.4 L192.6 214.2 L193.6 214.0 L194.6 213.8 L195.6 213.6 L196.6 213.4 L197.6 213.1 L198.6 212.9 L199.6 212.6 L200.6 212.3 L201.6 212.0 L202.6 211.7 L203.6 211.3 L204.6 210.9 L205.6 210.6 L206.6 210.1 L207.6 209.7 L208.6 209.3 L209.6 208.8 L210.6 208.4 L211.6 207.9 L212.6 207.4 L213.6 206.9 L214.6 206.3 L215.6 205.8 L216.6 205.3 L217.6 204.7 L218.6 204.2 L219.6 203.6 L220.6 203.0 L221.6 202.4 L222.6 201.9 L223.6 201.3 L224.6 200.7 L225.6 200.1 L226.6 199.5 L227.6 199.0 L228.6 198.4 L229.6 197.8 L230.6 197.1 L231.6 196.4 L232.6 195.7 L233.6 194.9 L234.6 194.1 L235.6 193.4 L236.6 192.6 L237.6 191.9 L238.6 191.1 L239.6 190.4 L240.6 189.6 L241.6 188.9 L242.6 188.2 L243.6 187.5 L244.6 186.7 L245.6 186.0 L246.6 185.3 L247.6 184.6 L248.6 183.9 L249.6 183.2 L250.6 182.5 L251.6 181.8 L252.6 181.1 L253.6 180.4 L254.6 179.7 L255.6 179.0 L256.6 178.3 L257.6 177.5 L258.6 176.8 L259.6 176.1 L260.6 175.3 L261.6 174.6 L262.6 173.8 L263.6 173.1 L264.6 172.3 L265.6 171.5 L266.6 170.7 L267.6 170.0 L268.6 169.2 L269.6 168.4 L270.6 167.6 L271.6 166.8 L272.6 166.0 L273.6 165.3 L274.6 164.5 L275.6 163.7 L276.6 163.0 L277.6 162.2 L278.6 161.5 L279.6 160.7 L280.6 160.0 L281.6 159.3 L282.6 158.6 L283.6 157.9 L284.6 157.2 L285.6 156.5 L286.6 155.8 L287.6 155.1 L288.6 154.4 L289.6 153.7 L290.6 153.0 L291.6 152.2 L292.6 151.5 L293.6 150.8 L294.6 150.0 L295.6 149.3 L296.6 148.5 L297.6 147.7 L298.6 147.0 L299.6 146.2 L300.6 145.4 L301.6 144.6 L302.6 143.8 L303.6 143.0 L304.6 142.2 L305.6 141.4 L306.6 140.6 L307.6 139.8 L308.6 139.0 L309.6 138.2 L310.6 137.4 L311.6 136.6 L312.6 135.8 L313.6 134.9 L314.6 134.0 L315.6 133.2 L316.6 132.2 L317.6 131.3 L318.6 130.3 L319.6 129.2 L320.6 128.1 L321.6 127.0 L322.6 125.9 L323.6 124.7 L324.6 123.5 L325.6 122.2 L326.6 121.0 L327.6 119.8 L328.6 118.6 L329.6 117.4 L330.6 116.3 L331.6 115.2 L332.6 114.1 L333.6 113.0 L334.6 112.0 L335.6 111.0 L336.6 109.9 L337.6 108.9 L338.6 107.8 L339.6 106.8 L340.6 105.8 L341.6 104.8 L342.6 103.8 L343.6 103.0 L344.6 102.2 L345.6 101.4 L346.6 100.8 L347.6 100.1 L348.6 99.6 L349.6 99.1 L350.6 98.7 L351.6 98.4 L352.6 98.1 L353.6 97.9 L354.6 97.8 L355.6 97.8 L356.6 97.8 L357.6 97.8 L358.6 97.9 L359.6 98.1 L360.6 98.3 L361.6 98.6 L362.6 98.9 L363.6 99.2 L364.6 99.6 L365.6 100.0 L366.6 100.5 L367.6 101.0 L368.6 101.5 L369.6 102.1 L370.6 102.7 L371.6 103.3 L372.6 104.0 L373.6 104.6 L374.6 105.3 L375.6 106.0 L376.6 106.7 L377.6 107.4 L378.6 108.1 L379.6 108.8 L380.6 109.5 L381.6 110.2 L382.6 110.9 L383.6 111.6 L384.6 112.3 L385.6 113.0 L386.6 113.7 L387.6 114.4 L388.6 115.1 L389.6 115.7 L390.6 116.4 L391.6 117.1 L392.6 117.7 L393.6 118.3 L394.6 119.0 L395.6 119.6 L396.6 120.2 L397.6 120.8 L398.6 121.3 L399.6 121.8 L400.6 122.4 L401.6 122.9 L402.6 123.3 L403.6 123.8 L404.6 124.3 L405.6 124.7 L406.6 125.1 L407.6 125.6 L408.6 126.0 L409.6 126.4 L410.6 126.8 L411.6 127.2 L412.6 127.6 L413.6 128.1 L414.6 128.5 L415.6 128.9 L416.6 129.4 L417.6 129.9 L418.6 130.3 L419.6 130.8 L420.6 131.4 L421.6 131.9 L422.6 132.5 L423.6 133.1 L424.6 133.8 L425.6 134.6 L426.6 135.4 L427.6 136.2 L428.6 137.1 L429.6 138.0 L430.6 139.0 L431.6 140.0 L432.6 141.0 L433.6 142.0 L434.6 143.0 L435.6 144.0 L436.6 145.1 L437.6 146.1 L438.6 147.2 L439.6 148.2 L440.6 149.2 L441.6 150.3 L442.6 151.3 L443.6 152.4 L444.6 153.4 L445.6 154.5 L446.6 155.6 L447.6 156.7 L448.6 157.9 L449.6 159.1 L450.6 160.3 L451.6 161.5 L452.6 162.7 L453.6 164.0 L454.6 165.4 L455.6 166.7 L456.6 168.1 L457.6 169.6 L458.6 171.0 L459.6 172.5 L460.6 174.0 L461.6 175.5 L462.6 177.0 L463.6 178.4 L464.6 179.9 L465.6 181.3 L466.6 182.6 L467.6 184.0 L468.6 185.2 L469.6 186.4 L470.6 187.6 L471.6 188.8 L472.6 190.0 L473.6 191.2 L474.6 192.4 L475.6 193.6 L476.6 194.9 L477.6 196.1 L478.6 197.3 L479.6 198.4 L480.6 199.6 L481.6 200.7 L482.6 201.8 L483.6 202.8 L484.6 203.8 L485.6 204.8 L486.6 205.7 L487.6 206.7 L488.6 207.5 L489.6 208.4 L490.6 209.2 L491.6 210.0 L492.6 210.7 L493.6 211.5 L494.6 212.1 L495.6 212.8 L496.6 213.4 L497.6 214.0 L498.6 214.5 L499.6 215.0 L500.6 215.5 L501.6 216.0 L502.6 216.4 L503.6 216.8 L504.6 217.2 L505.6 217.5 L506.6 217.9 L507.6 218.2 L508.6 218.6 L509.6 218.9 L510.6 219.3 L511.6 219.6 L512.6 220.0 L513.6 220.3 L514.6 220.7 L515.6 221.0 L516.6 221.4 L517.6 221.8 L518.6 222.1 L519.6 222.5 L520.6 222.9 L521.6 223.2 L522.6 223.5 L523.6 223.8 L524.6 224.1 L525.6 224.4 L526.6 224.7 L527.6 224.9 L528.6 225.1 L529.6 225.3 L530.6 225.4 L531.6 225.6 L532.6 225.7 L533.6 225.8 L534.6 225.8 L535.6 225.9 L536.6 226.0 L537.6 226.1 L538.6 226.1 L539.6 226.2 L540.6 226.3 L541.6 226.4 L542.6 226.4 L543.6 226.5 L544.6 226.6 L545.6 226.7 L546.6 226.8 L547.6 226.9 L548.6 226.9 L549.6 227.0 L550.6 227.0 L551.6 227.1 L552.6 227.1 L553.6 227.1 L554.6 227.1 L555.6 227.1 L556.6 227.1 L557.6 227.1 L558.6 227.1 L559.6 227.2 L560.6 227.2 L561.6 227.2 L562.6 227.3 L563.6 227.4 L564.6 227.5 L565.6 227.6 L566.6 227.7 L567.6 227.8 L568.6 227.9 L569.6 228.0 L570.6 228.1 L571.6 228.2 L572.6 228.3 L573.6 228.4 L574.6 228.4 L575.6 228.5 L576.6 228.6 L577.6 228.7 L578.6 228.7 L579.6 228.8 L580.6 228.9 L581.6 228.9 L582.6 229.0 L583.6 229.0 L584.6 229.0 L585.6 229.1 L586.6 229.1 L587.6 229.1 L588.6 229.1 L589.6 229.1 L590.6 229.2 L591.6 229.2 L592.6 229.2 L593.6 229.2 L594.6 229.2 L595.6 229.2 L596.6 229.2 L597.6 229.2 L598.6 229.2 L599.6 229.2 L600.6 229.2 L601.6 229.2 L602.6 229.2 L603.6 229.2 L604.6 229.2 L605.6 229.2 L606.6 229.2 L607.6 229.2 L608.6 229.2 L609.6 229.2 L610.6 229.2 L611.6 229.2 L612.6 229.2 L613.6 229.2 L614.6 229.2 L615.6 229.2 L616.6 229.2 L617.6 229.2 L618.6 229.2 L619.6 229.2 L620.6 229.2 L621.6 229.2 L622.6 229.2 L623.6 229.2 L624.6 229.2 L625.6 229.2 L626.6 229.2 L627.6 229.2 L628.6 229.2 L629.6 229.2 L630.6 229.2 L631.6 229.2 L632.6 229.2 L633.6 229.2 L634.6 229.2 L635.6 229.2 L636.6 229.2 L637.6 229.1 L638.6 229.1 L639.6 229.1 L640.6 229.1 L641.6 229.1 L642.6 229.1 L643.6 229.1 L644.6 229.1 L645.6 229.1 L646.6 229.1 L647.6 229.1 L648.6 229.1 L649.6 229.1 L650.6 229.1 L651.6 229.1 L652.6 229.1 L653.6 229.1 L654.6 229.0 L655.6 229.0 L656.6 229.0 L657.6 229.0 L658.6 229.0 L659.6 229.0 L660.6 229.0 L661.6 229.0" fill="none" stroke="#878c14" stroke-width="4.8" stroke-linejoin="round" stroke-linecap="butt"/>
<path d="M75.6 502.6 L76.6 502.6 L77.6 502.6 L78.6 502.6 L79.6 502.6 L80.6 502.6 L81.6 502.6 L82.6 502.6 L83.6 502.6 L84.6 502.6 L85.6 502.6 L86.6 502.6 L87.6 502.6 L88.6 502.6 L89.6 502.6 L90.6 502.6 L91.6 502.6 L92.6 502.6 L93.6 502.6 L94.6 502.6 L95.6 502.6 L96.6 502.6 L97.6 502.6 L98.6 502.6 L99.6 502.5 L100.6 502.5 L101.6 502.5 L102.6 502.5 L103.6 502.5 L104.6 502.5 L105.6 502.5 L106.6 502.5 L107.6 502.5 L108.6 502.5 L109.6 502.5 L110.6 502.5 L111.6 502.5 L112.6 502.5 L113.6 502.5 L114.6 502.5 L115.6 502.5 L116.6 502.5 L117.6 502.5 L118.6 502.4 L119.6 502.4 L120.6 502.4 L121.6 502.4 L122.6 502.4 L123.6 502.4 L124.6 502.4 L125.6 502.4 L126.6 502.4 L127.6 502.4 L128.6 502.4 L129.6 502.4 L130.6 502.4 L131.6 502.4 L132.6 502.3 L133.6 502.3 L134.6 502.3 L135.6 502.3 L136.6 502.3 L137.6 502.3 L138.6 502.3 L139.6 502.3 L140.6 502.3 L141.6 502.3 L142.6 502.2 L143.6 502.2 L144.6 502.2 L145.6 502.2 L146.6 502.2 L147.6 502.2 L148.6 502.2 L149.6 502.1 L150.6 502.1 L151.6 502.1 L152.6 502.1 L153.6 502.1 L154.6 502.1 L155.6 502.0 L156.6 502.0 L157.6 502.0 L158.6 502.0 L159.6 502.0 L160.6 501.9 L161.6 501.9 L162.6 501.9 L163.6 501.8 L164.6 501.8 L165.6 501.8 L166.6 501.8 L167.6 501.7 L168.6 501.7 L169.6 501.6 L170.6 501.6 L171.6 501.6 L172.6 501.5 L173.6 501.5 L174.6 501.4 L175.6 501.4 L176.6 501.3 L177.6 501.3 L178.6 501.2 L179.6 501.1 L180.6 501.1 L181.6 501.0 L182.6 500.9 L183.6 500.8 L184.6 500.8 L185.6 500.7 L186.6 500.6 L187.6 500.5 L188.6 500.4 L189.6 500.3 L190.6 500.2 L191.6 500.1 L192.6 499.9 L193.6 499.8 L194.6 499.7 L195.6 499.6 L196.6 499.4 L197.6 499.3 L198.6 499.1 L199.6 499.0 L200.6 498.8 L201.6 498.6 L202.6 498.5 L203.6 498.3 L204.6 498.1 L205.6 497.9 L206.6 497.7 L207.6 497.5 L208.6 497.3 L209.6 497.0 L210.6 496.8 L211.6 496.6 L212.6 496.3 L213.6 496.1 L214.6 495.8 L215.6 495.6 L216.6 495.3 L217.6 495.0 L218.6 494.7 L219.6 494.5 L220.6 494.2 L221.6 493.9 L222.6 493.6 L223.6 493.3 L224.6 492.9 L225.6 492.6 L226.6 492.3 L227.6 492.0 L228.6 491.7 L229.6 491.3 L230.6 491.0 L231.6 490.7 L232.6 490.3 L233.6 490.0 L234.6 489.6 L235.6 489.3 L236.6 489.0 L237.6 488.6 L238.6 488.3 L239.6 487.9 L240.6 487.6 L241.6 487.3 L242.6 486.9 L243.6 486.6 L244.6 486.3 L245.6 486.0 L246.6 485.7 L247.6 485.4 L248.6 485.1 L249.6 484.8 L250.6 484.5 L251.6 484.2 L252.6 484.0 L253.6 483.7 L254.6 483.5 L255.6 483.2 L256.6 483.0 L257.6 482.8 L258.6 482.6 L259.6 482.4 L260.6 482.3 L261.6 482.1 L262.6 482.0 L263.6 481.8 L264.6 481.7 L265.6 481.6 L266.6 481.5 L267.6 481.4 L268.6 481.3 L269.6 481.3 L270.6 481.2 L271.6 481.2 L272.6 481.1 L273.6 481.1 L274.6 481.1 L275.6 481.1 L276.6 481.1 L277.6 481.1 L278.6 481.1 L279.6 481.1 L280.6 481.1 L281.6 481.1 L282.6 481.1 L283.6 481.2 L284.6 481.2 L285.6 481.2 L286.6 481.2 L287.6 481.2 L288.6 481.2 L289.6 481.2 L290.6 481.2 L291.6 481.2 L292.6 481.1 L293.6 481.1 L294.6 481.1 L295.6 481.0 L296.6 481.0 L297.6 480.9 L298.6 480.8 L299.6 480.8 L300.6 480.7 L301.6 480.6 L302.6 480.5 L303.6 480.4 L304.6 480.2 L305.6 480.1 L306.6 479.9 L307.6 479.8 L308.6 479.6 L309.6 479.4 L310.6 479.3 L311.6 479.1 L312.6 478.9 L313.6 478.7 L314.6 478.5 L315.6 478.3 L316.6 478.0 L317.6 477.8 L318.6 477.6 L319.6 477.4 L320.6 477.1 L321.6 476.9 L322.6 476.7 L323.6 476.5 L324.6 476.2 L325.6 476.0 L326.6 475.8 L327.6 475.6 L328.6 475.4 L329.6 475.2 L330.6 475.0 L331.6 474.8 L332.6 474.7 L333.6 474.5 L334.6 474.4 L335.6 474.3 L336.6 474.2 L337.6 474.1 L338.6 474.0 L339.6 474.0 L340.6 474.0 L341.6 474.0 L342.6 474.0 L343.6 474.0 L344.6 474.1 L345.6 474.2 L346.6 474.3 L347.6 474.4 L348.6 474.5 L349.6 474.7 L350.6 474.9 L351.6 475.1 L352.6 475.4 L353.6 475.6 L354.6 475.9 L355.6 476.2 L356.6 476.5 L357.6 476.8 L358.6 477.2 L359.6 477.5 L360.6 477.9 L361.6 478.3 L362.6 478.7 L363.6 479.1 L364.6 479.5 L365.6 480.0 L366.6 480.4 L367.6 480.8 L368.6 481.3 L369.6 481.8 L370.6 482.2 L371.6 482.7 L372.6 483.2 L373.6 483.6 L374.6 484.1 L375.6 484.6 L376.6 485.1 L377.6 485.5 L378.6 486.0 L379.6 486.5 L380.6 487.0 L381.6 487.4 L382.6 487.9 L383.6 488.3 L384.6 488.8 L385.6 489.2 L386.6 489.7 L387.6 490.1 L388.6 490.5 L389.6 490.9 L390.6 491.3 L391.6 491.8 L392.6 492.1 L393.6 492.5 L394.6 492.9 L395.6 493.3 L396.6 493.6 L397.6 494.0 L398.6 494.3 L399.6 494.6 L400.6 495.0 L401.6 495.3 L402.6 495.6 L403.6 495.9 L404.6 496.1 L405.6 496.4 L406.6 496.7 L407.6 496.9 L408.6 497.2 L409.6 497.4 L410.6 497.6 L411.6 497.9 L412.6 498.1 L413.6 498.3 L414.6 498.5 L415.6 498.7 L416.6 498.8 L417.6 499.0 L418.6 499.2 L419.6 499.3 L420.6 499.5 L421.6 499.6 L422.6 499.8 L423.6 499.9 L424.6 500.0 L425.6 500.1 L426.6 500.2 L427.6 500.3 L428.6 500.4 L429.6 500.5 L430.6 500.6 L431.6 500.7 L432.6 500.8 L433.6 500.9 L434.6 501.0 L435.6 501.0 L436.6 501.1 L437.6 501.2 L438.6 501.2 L439.6 501.3 L440.6 501.3 L441.6 501.4 L442.6 501.4 L443.6 501.5 L444.6 501.5 L445.6 501.6 L446.6 501.6 L447.6 501.6 L448.6 501.7 L449.6 501.7 L450.6 501.7 L451.6 501.8 L452.6 501.8 L453.6 501.8 L454.6 501.9 L455.6 501.9 L456.6 501.9 L457.6 501.9 L458.6 501.9 L459.6 502.0 L460.6 502.0 L461.6 502.0 L462.6 502.0 L463.6 502.0 L464.6 502.1 L465.6 502.1 L466.6 502.1 L467.6 502.1 L468.6 502.1 L469.6 502.1 L470.6 502.2 L471.6 502.2 L472.6 502.2 L473.6 502.2 L474.6 502.2 L475.6 502.2 L476.6 502.2 L477.6 502.2 L478.6 502.2 L479.6 502.3 L480.6 502.3 L481.6 502.3 L482.6 502.3 L483.6 502.3 L484.6 502.3 L485.6 502.3 L486.6 502.3 L487.6 502.3 L488.6 502.3 L489.6 502.3 L490.6 502.4 L491.6 502.4 L492.6 502.4 L493.6 502.4 L494.6 502.4 L495.6 502.4 L496.6 502.4 L497.6 502.4 L498.6 502.4 L499.6 502.4 L500.6 502.4 L501.6 502.4 L502.6 502.4 L503.6 502.4 L504.6 502.5 L505.6 502.5 L506.6 502.5 L507.6 502.5 L508.6 502.5 L509.6 502.5 L510.6 502.5 L511.6 502.5 L512.6 502.5 L513.6 502.5 L514.6 502.5 L515.6 502.5 L516.6 502.5 L517.6 502.5 L518.6 502.5 L519.6 502.5 L520.6 502.5 L521.6 502.5 L522.6 502.5 L523.6 502.6 L524.6 502.6 L525.6 502.6 L526.6 502.6 L527.6 502.6 L528.6 502.6 L529.6 502.6 L530.6 502.6 L531.6 502.6 L532.6 502.6 L533.6 502.6 L534.6 502.6 L535.6 502.6 L536.6 502.6 L537.6 502.6 L538.6 502.6 L539.6 502.6 L540.6 502.6 L541.6 502.6 L542.6 502.6 L543.6 502.6 L544.6 502.6 L545.6 502.6 L546.6 502.6 L547.6 502.6 L548.6 502.6 L549.6 502.6 L550.6 502.6 L551.6 502.7 L552.6 502.7 L553.6 502.7 L554.6 502.7 L555.6 502.7 L556.6 502.7 L557.6 502.7 L558.6 502.7 L559.6 502.7 L560.6 502.7 L561.6 502.7 L562.6 502.7 L563.6 502.7 L564.6 502.7 L565.6 502.7 L566.6 502.7 L567.6 502.7 L568.6 502.7 L569.6 502.7 L570.6 502.7 L571.6 502.7 L572.6 502.7 L573.6 502.7 L574.6 502.7 L575.6 502.7 L576.6 502.7 L577.6 502.7 L578.6 502.7 L579.6 502.7 L580.6 502.7 L581.6 502.7 L582.6 502.7 L583.6 502.7 L584.6 502.7 L585.6 502.7 L586.6 502.7 L587.6 502.7 L588.6 502.7 L589.6 502.7 L590.6 502.7 L591.6 502.7 L592.6 502.7 L593.6 502.8 L594.6 502.8 L595.6 502.8 L596.6 502.8 L597.6 502.8 L598.6 502.8 L599.6 502.8 L600.6 502.8 L601.6 502.8 L602.6 502.8 L603.6 502.8 L604.6 502.8 L605.6 502.8 L606.6 502.8 L607.6 502.8 L608.6 502.8 L609.6 502.8 L610.6 502.8 L611.6 502.8 L612.6 502.8 L613.6 502.8 L614.6 502.8 L615.6 502.8 L616.6 502.8 L617.6 502.8 L618.6 502.8 L619.6 502.8 L620.6 502.8 L621.6 502.8 L622.6 502.8 L623.6 502.8 L624.6 502.8 L625.6 502.8 L626.6 502.8 L627.6 502.8 L628.6 502.8 L629.6 502.8 L630.6 502.8 L631.6 502.8 L632.6 502.8 L633.6 502.8 L634.6 502.8 L635.6 502.8 L636.6 502.8 L637.6 502.8 L638.6 502.8 L639.6 502.8 L640.6 502.8 L641.6 502.8 L642.6 502.8 L643.6 502.8 L644.6 502.8 L645.6 502.8 L646.6 502.8 L647.6 502.8 L648.6 502.8 L649.6 502.8 L650.6 502.8 L651.6 502.8 L652.6 502.8 L653.6 502.8 L654.6 502.8 L655.6 502.8 L656.6 502.8 L657.6 502.8 L658.6 502.8 L659.6 502.8 L660.6 502.8 L661.6 502.8" fill="none" stroke="#8010f0" stroke-width="4.2" stroke-linejoin="round" stroke-linecap="butt"/>
<path d="M75.6 502.2 L76.6 502.2 L77.6 502.2 L78.6 502.2 L79.6 502.2 L80.6 502.2 L81.6 502.2 L82.6 502.2 L83.6 502.2 L84.6 502.2 L85.6 502.2 L86.6 502.2 L87.6 502.2 L88.6 502.2 L89.6 502.2 L90.6 502.2 L91.6 502.1 L92.6 502.1 L93.6 502.1 L94.6 502.1 L95.6 502.1 L96.6 502.1 L97.6 502.1 L98.6 502.1 L99.6 502.1 L100.6 502.1 L101.6 502.1 L102.6 502.1 L103.6 502.1 L104.6 502.1 L105.6 502.0 L106.6 502.0 L107.6 502.0 L108.6 502.0 L109.6 502.0 L110.6 502.0 L111.6 502.0 L112.6 502.0 L113.6 502.0 L114.6 502.0 L115.6 502.0 L116.6 502.0 L117.6 502.0 L118.6 501.9 L119.6 501.9 L120.6 501.9 L121.6 501.9 L122.6 501.9 L123.6 501.9 L124.6 501.9 L125.6 501.9 L126.6 501.9 L127.6 501.9 L128.6 501.9 L129.6 501.8 L130.6 501.8 L131.6 501.8 L132.6 501.8 L133.6 501.8 L134.6 501.8 L135.6 501.8 L136.6 501.8 L137.6 501.8 L138.6 501.8 L139.6 501.7 L140.6 501.7 L141.6 501.7 L142.6 501.7 L143.6 501.7 L144.6 501.7 L145.6 501.7 L146.6 501.7 L147.6 501.7 L148.6 501.6 L149.6 501.6 L150.6 501.6 L151.6 501.6 L152.6 501.6 L153.6 501.6 L154.6 501.6 L155.6 501.5 L156.6 501.5 L157.6 501.5 L158.6 501.5 L159.6 501.5 L160.6 501.5 L161.6 501.5 L162.6 501.5 L163.6 501.4 L164.6 501.4 L165.6 501.4 L166.6 501.4 L167.6 501.4 L168.6 501.4 L169.6 501.3 L170.6 501.3 L171.6 501.3 L172.6 501.3 L173.6 501.3 L174.6 501.3 L175.6 501.2 L176.6 501.2 L177.6 501.2 L178.6 501.2 L179.6 501.2 L180.6 501.2 L181.6 501.1 L182.6 501.1 L183.6 501.1 L184.6 501.1 L185.6 501.1 L186.6 501.0 L187.6 501.0 L188.6 501.0 L189.6 501.0 L190.6 500.9 L191.6 500.9 L192.6 500.9 L193.6 500.9 L194.6 500.9 L195.6 500.8 L196.6 500.8 L197.6 500.8 L198.6 500.8 L199.6 500.7 L200.6 500.7 L201.6 500.7 L202.6 500.7 L203.6 500.6 L204.6 500.6 L205.6 500.6 L206.6 500.5 L207.6 500.5 L208.6 500.5 L209.6 500.4 L210.6 500.4 L211.6 500.4 L212.6 500.3 L213.6 500.3 L214.6 500.3 L215.6 500.2 L216.6 500.2 L217.6 500.2 L218.6 500.1 L219.6 500.1 L220.6 500.0 L221.6 500.0 L222.6 499.9 L223.6 499.9 L224.6 499.8 L225.6 499.8 L226.6 499.7 L227.6 499.7 L228.6 499.6 L229.6 499.5 L230.6 499.5 L231.6 499.4 L232.6 499.3 L233.6 499.3 L234.6 499.2 L235.6 499.1 L236.6 499.0 L237.6 498.9 L238.6 498.9 L239.6 498.8 L240.6 498.7 L241.6 498.6 L242.6 498.4 L243.6 498.3 L244.6 498.2 L245.6 498.1 L246.6 497.9 L247.6 497.8 L248.6 497.6 L249.6 497.5 L250.6 497.3 L251.6 497.1 L252.6 497.0 L253.6 496.8 L254.6 496.6 L255.6 496.3 L256.6 496.1 L257.6 495.9 L258.6 495.6 L259.6 495.4 L260.6 495.1 L261.6 494.8 L262.6 494.5 L263.6 494.2 L264.6 493.8 L265.6 493.5 L266.6 493.1 L267.6 492.7 L268.6 492.3 L269.6 491.9 L270.6 491.4 L271.6 490.9 L272.6 490.4 L273.6 489.9 L274.6 489.4 L275.6 488.8 L276.6 488.2 L277.6 487.6 L278.6 487.0 L279.6 486.3 L280.6 485.6 L281.6 484.9 L282.6 484.1 L283.6 483.4 L284.6 482.6 L285.6 481.7 L286.6 480.8 L287.6 480.0 L288.6 479.0 L289.6 478.1 L290.6 477.1 L291.6 476.0 L292.6 475.0 L293.6 473.9 L294.6 472.8 L295.6 471.6 L296.6 470.5 L297.6 469.2 L298.6 468.0 L299.6 466.7 L300.6 465.4 L301.6 464.1 L302.6 462.7 L303.6 461.3 L304.6 459.9 L305.6 458.5 L306.6 457.0 L307.6 455.5 L308.6 454.0 L309.6 452.4 L310.6 450.9 L311.6 449.3 L312.6 447.7 L313.6 446.1 L314.6 444.4 L315.6 442.8 L316.6 441.1 L317.6 439.4 L318.6 437.8 L319.6 436.1 L320.6 434.4 L321.6 432.7 L322.6 431.0 L323.6 429.3 L324.6 427.6 L325.6 426.0 L326.6 424.3 L327.6 422.6 L328.6 421.0 L329.6 419.4 L330.6 417.8 L331.6 416.2 L332.6 414.6 L333.6 413.1 L334.6 411.6 L335.6 410.1 L336.6 408.7 L337.6 407.3 L338.6 405.9 L339.6 404.6 L340.6 403.3 L341.6 402.1 L342.6 400.9 L343.6 399.8 L344.6 398.7 L345.6 397.7 L346.6 396.7 L347.6 395.7 L348.6 394.9 L349.6 394.0 L350.6 393.3 L351.6 392.5 L352.6 391.8 L353.6 391.2 L354.6 390.6 L355.6 390.1 L356.6 389.6 L357.6 389.2 L358.6 388.8 L359.6 388.4 L360.6 388.1 L361.6 387.8 L362.6 387.5 L363.6 387.3 L364.6 387.0 L365.6 386.8 L366.6 386.6 L367.6 386.5 L368.6 386.3 L369.6 386.1 L370.6 386.0 L371.6 385.8 L372.6 385.6 L373.6 385.4 L374.6 385.2 L375.6 385.0 L376.6 384.8 L377.6 384.5 L378.6 384.3 L379.6 384.0 L380.6 383.7 L381.6 383.3 L382.6 382.9 L383.6 382.5 L384.6 382.0 L385.6 381.6 L386.6 381.0 L387.6 380.5 L388.6 379.9 L389.6 379.2 L390.6 378.6 L391.6 377.9 L392.6 377.1 L393.6 376.3 L394.6 375.5 L395.6 374.7 L396.6 373.8 L397.6 372.9 L398.6 372.0 L399.6 371.0 L400.6 370.0 L401.6 369.0 L402.6 368.0 L403.6 367.0 L404.6 366.0 L405.6 364.9 L406.6 363.9 L407.6 362.8 L408.6 361.8 L409.6 360.7 L410.6 359.7 L411.6 358.7 L412.6 357.7 L413.6 356.8 L414.6 355.9 L415.6 355.0 L416.6 354.2 L417.6 353.4 L418.6 352.7 L419.6 352.0 L420.6 351.4 L421.6 350.8 L422.6 350.3 L423.6 349.9 L424.6 349.6 L425.6 349.4 L426.6 349.2 L427.6 349.2 L428.6 349.2 L429.6 349.3 L430.6 349.6 L431.6 349.9 L432.6 350.3 L433.6 350.9 L434.6 351.5 L435.6 352.2 L436.6 353.1 L437.6 354.0 L438.6 355.0 L439.6 356.2 L440.6 357.4 L441.6 358.7 L442.6 360.1 L443.6 361.6 L444.6 363.2 L445.6 364.9 L446.6 366.6 L447.6 368.4 L448.6 370.3 L449.6 372.2 L450.6 374.2 L451.6 376.3 L452.6 378.4 L453.6 380.6 L454.6 382.8 L455.6 385.0 L456.6 387.3 L457.6 389.6 L458.6 392.0 L459.6 394.3 L460.6 396.7 L461.6 399.1 L462.6 401.5 L463.6 403.9 L464.6 406.3 L465.6 408.8 L466.6 411.2 L467.6 413.6 L468.6 416.0 L469.6 418.3 L470.6 420.7 L471.6 423.1 L472.6 425.4 L473.6 427.7 L474.6 430.0 L475.6 432.2 L476.6 434.4 L477.6 436.6 L478.6 438.8 L479.6 440.9 L480.6 443.0 L481.6 445.0 L482.6 447.0 L483.6 448.9 L484.6 450.9 L485.6 452.7 L486.6 454.6 L487.6 456.3 L488.6 458.1 L489.6 459.8 L490.6 461.4 L491.6 463.0 L492.6 464.5 L493.6 466.0 L494.6 467.5 L495.6 468.9 L496.6 470.3 L497.6 471.6 L498.6 472.9 L499.6 474.1 L500.6 475.3 L501.6 476.4 L502.6 477.5 L503.6 478.6 L504.6 479.6 L505.6 480.6 L506.6 481.5 L507.6 482.4 L508.6 483.3 L509.6 484.1 L510.6 484.9 L511.6 485.7 L512.6 486.4 L513.6 487.1 L514.6 487.8 L515.6 488.4 L516.6 489.0 L517.6 489.6 L518.6 490.1 L519.6 490.6 L520.6 491.1 L521.6 491.6 L522.6 492.0 L523.6 492.5 L524.6 492.9 L525.6 493.2 L526.6 493.6 L527.6 494.0 L528.6 494.3 L529.6 494.6 L530.6 494.9 L531.6 495.2 L532.6 495.4 L533.6 495.7 L534.6 495.9 L535.6 496.1 L536.6 496.4 L537.6 496.6 L538.6 496.8 L539.6 496.9 L540.6 497.1 L541.6 497.3 L542.6 497.4 L543.6 497.6 L544.6 497.7 L545.6 497.8 L546.6 498.0 L547.6 498.1 L548.6 498.2 L549.6 498.3 L550.6 498.4 L551.6 498.5 L552.6 498.6 L553.6 498.7 L554.6 498.8 L555.6 498.9 L556.6 499.0 L557.6 499.0 L558.6 499.1 L559.6 499.2 L560.6 499.2 L561.6 499.3 L562.6 499.4 L563.6 499.4 L564.6 499.5 L565.6 499.5 L566.6 499.6 L567.6 499.6 L568.6 499.7 L569.6 499.7 L570.6 499.8 L571.6 499.8 L572.6 499.9 L573.6 499.9 L574.6 500.0 L575.6 500.0 L576.6 500.1 L577.6 500.1 L578.6 500.1 L579.6 500.2 L580.6 500.2 L581.6 500.2 L582.6 500.3 L583.6 500.3 L584.6 500.3 L585.6 500.4 L586.6 500.4 L587.6 500.4 L588.6 500.5 L589.6 500.5 L590.6 500.5 L591.6 500.6 L592.6 500.6 L593.6 500.6 L594.6 500.6 L595.6 500.7 L596.6 500.7 L597.6 500.7 L598.6 500.7 L599.6 500.8 L600.6 500.8 L601.6 500.8 L602.6 500.8 L603.6 500.9 L604.6 500.9 L605.6 500.9 L606.6 500.9 L607.6 500.9 L608.6 501.0 L609.6 501.0 L610.6 501.0 L611.6 501.0 L612.6 501.1 L613.6 501.1 L614.6 501.1 L615.6 501.1 L616.6 501.1 L617.6 501.1 L618.6 501.2 L619.6 501.2 L620.6 501.2 L621.6 501.2 L622.6 501.2 L623.6 501.3 L624.6 501.3 L625.6 501.3 L626.6 501.3 L627.6 501.3 L628.6 501.3 L629.6 501.4 L630.6 501.4 L631.6 501.4 L632.6 501.4 L633.6 501.4 L634.6 501.4 L635.6 501.4 L636.6 501.5 L637.6 501.5 L638.6 501.5 L639.6 501.5 L640.6 501.5 L641.6 501.5 L642.6 501.5 L643.6 501.6 L644.6 501.6 L645.6 501.6 L646.6 501.6 L647.6 501.6 L648.6 501.6 L649.6 501.6 L650.6 501.6 L651.6 501.7 L652.6 501.7 L653.6 501.7 L654.6 501.7 L655.6 501.7 L656.6 501.7 L657.6 501.7 L658.6 501.7 L659.6 501.7 L660.6 501.8 L661.6 501.8" fill="none" stroke="#800080" stroke-width="4.2" stroke-linejoin="round" stroke-linecap="butt"/>
<g fill="#fff" stroke="#228b22" stroke-width="1.25" clip-path="url(#pc)"><circle cx="75.6" cy="440.8" r="7.3"/><circle cx="80.5" cy="440.9" r="7.3"/><circle cx="85.4" cy="442.7" r="7.3"/><circle cx="90.3" cy="444.1" r="7.3"/><circle cx="95.1" cy="445.5" r="7.3"/><circle cx="100.0" cy="444.9" r="7.3"/><circle cx="104.9" cy="444.7" r="7.3"/><circle cx="109.8" cy="444.9" r="7.3"/><circle cx="114.7" cy="446.8" r="7.3"/><circle cx="119.6" cy="448.0" r="7.3"/><circle cx="124.4" cy="447.0" r="7.3"/><circle cx="129.3" cy="445.9" r="7.3"/><circle cx="134.2" cy="446.5" r="7.3"/><circle cx="139.1" cy="449.4" r="7.3"/><circle cx="144.0" cy="448.0" r="7.3"/><circle cx="148.9" cy="445.9" r="7.3"/><circle cx="153.7" cy="447.3" r="7.3"/><circle cx="158.6" cy="446.0" r="7.3"/><circle cx="163.5" cy="446.4" r="7.3"/><circle cx="168.4" cy="446.3" r="7.3"/><circle cx="173.3" cy="446.0" r="7.3"/><circle cx="178.2" cy="446.9" r="7.3"/><circle cx="183.0" cy="445.6" r="7.3"/><circle cx="187.9" cy="444.4" r="7.3"/><circle cx="192.8" cy="444.9" r="7.3"/><circle cx="197.7" cy="444.6" r="7.3"/><circle cx="202.6" cy="441.3" r="7.3"/><circle cx="207.5" cy="441.7" r="7.3"/><circle cx="212.3" cy="439.8" r="7.3"/><circle cx="217.2" cy="439.4" r="7.3"/><circle cx="222.1" cy="437.0" r="7.3"/><circle cx="227.0" cy="436.9" r="7.3"/><circle cx="231.9" cy="435.4" r="7.3"/><circle cx="236.8" cy="433.4" r="7.3"/><circle cx="241.6" cy="430.6" r="7.3"/><circle cx="246.5" cy="429.0" r="7.3"/><circle cx="251.4" cy="426.0" r="7.3"/><circle cx="256.3" cy="423.6" r="7.3"/><circle cx="261.2" cy="423.4" r="7.3"/><circle cx="266.1" cy="419.8" r="7.3"/><circle cx="270.9" cy="419.1" r="7.3"/><circle cx="275.8" cy="415.1" r="7.3"/><circle cx="280.7" cy="408.1" r="7.3"/><circle cx="285.6" cy="405.9" r="7.3"/><circle cx="290.5" cy="399.7" r="7.3"/><circle cx="295.4" cy="395.3" r="7.3"/><circle cx="300.2" cy="389.4" r="7.3"/><circle cx="305.1" cy="381.3" r="7.3"/><circle cx="310.0" cy="375.1" r="7.3"/><circle cx="314.9" cy="366.3" r="7.3"/><circle cx="319.8" cy="358.6" r="7.3"/><circle cx="324.7" cy="347.9" r="7.3"/><circle cx="329.5" cy="342.1" r="7.3"/><circle cx="334.4" cy="332.7" r="7.3"/><circle cx="339.3" cy="326.6" r="7.3"/><circle cx="344.2" cy="319.9" r="7.3"/><circle cx="349.1" cy="318.9" r="7.3"/><circle cx="354.0" cy="318.9" r="7.3"/><circle cx="358.8" cy="322.6" r="7.3"/><circle cx="363.7" cy="323.5" r="7.3"/><circle cx="368.6" cy="326.5" r="7.3"/><circle cx="373.5" cy="329.0" r="7.3"/><circle cx="378.4" cy="328.6" r="7.3"/><circle cx="383.3" cy="328.5" r="7.3"/><circle cx="388.1" cy="328.0" r="7.3"/><circle cx="393.0" cy="322.9" r="7.3"/><circle cx="397.9" cy="318.9" r="7.3"/><circle cx="402.8" cy="309.7" r="7.3"/><circle cx="407.7" cy="307.5" r="7.3"/><circle cx="412.6" cy="301.9" r="7.3"/><circle cx="417.4" cy="297.2" r="7.3"/><circle cx="422.3" cy="295.3" r="7.3"/><circle cx="427.2" cy="297.4" r="7.3"/><circle cx="432.1" cy="300.4" r="7.3"/><circle cx="437.0" cy="302.8" r="7.3"/><circle cx="441.9" cy="310.7" r="7.3"/><circle cx="446.7" cy="320.5" r="7.3"/><circle cx="451.6" cy="329.3" r="7.3"/><circle cx="456.5" cy="341.9" r="7.3"/><circle cx="461.4" cy="355.2" r="7.3"/><circle cx="466.3" cy="371.4" r="7.3"/><circle cx="471.2" cy="385.3" r="7.3"/><circle cx="476.0" cy="398.9" r="7.3"/><circle cx="480.9" cy="408.0" r="7.3"/><circle cx="485.8" cy="417.1" r="7.3"/><circle cx="490.7" cy="427.1" r="7.3"/><circle cx="495.6" cy="432.1" r="7.3"/><circle cx="500.5" cy="438.2" r="7.3"/><circle cx="505.3" cy="442.4" r="7.3"/><circle cx="510.2" cy="444.8" r="7.3"/><circle cx="515.1" cy="447.5" r="7.3"/><circle cx="520.0" cy="450.7" r="7.3"/><circle cx="524.9" cy="450.6" r="7.3"/><circle cx="529.8" cy="451.4" r="7.3"/><circle cx="534.6" cy="452.1" r="7.3"/><circle cx="539.5" cy="454.7" r="7.3"/><circle cx="544.4" cy="455.1" r="7.3"/><circle cx="549.3" cy="456.1" r="7.3"/><circle cx="554.2" cy="456.0" r="7.3"/><circle cx="559.1" cy="456.8" r="7.3"/><circle cx="564.0" cy="457.4" r="7.3"/><circle cx="568.8" cy="458.5" r="7.3"/><circle cx="573.7" cy="459.9" r="7.3"/><circle cx="578.6" cy="460.1" r="7.3"/><circle cx="583.5" cy="461.0" r="7.3"/><circle cx="588.4" cy="463.2" r="7.3"/><circle cx="593.3" cy="461.9" r="7.3"/><circle cx="598.1" cy="459.9" r="7.3"/><circle cx="603.0" cy="463.1" r="7.3"/><circle cx="607.9" cy="461.7" r="7.3"/><circle cx="612.8" cy="460.5" r="7.3"/><circle cx="617.7" cy="462.6" r="7.3"/><circle cx="622.6" cy="462.1" r="7.3"/><circle cx="627.4" cy="461.8" r="7.3"/><circle cx="632.3" cy="462.0" r="7.3"/><circle cx="637.2" cy="461.8" r="7.3"/><circle cx="642.1" cy="463.0" r="7.3"/><circle cx="647.0" cy="464.1" r="7.3"/><circle cx="651.9" cy="462.7" r="7.3"/><circle cx="656.7" cy="463.4" r="7.3"/><circle cx="661.6" cy="464.9" r="7.3"/></g>
<path d="M75.6 450.4 L76.6 450.4 L77.6 450.4 L78.6 450.4 L79.6 450.4 L80.6 450.3 L81.6 450.3 L82.6 450.3 L83.6 450.3 L84.6 450.3 L85.6 450.3 L86.6 450.3 L87.6 450.2 L88.6 450.2 L89.6 450.2 L90.6 450.2 L91.6 450.2 L92.6 450.2 L93.6 450.1 L94.6 450.1 L95.6 450.1 L96.6 450.1 L97.6 450.1 L98.6 450.0 L99.6 450.0 L100.6 450.0 L101.6 450.0 L102.6 449.9 L103.6 449.9 L104.6 449.9 L105.6 449.8 L106.6 449.8 L107.6 449.8 L108.6 449.8 L109.6 449.7 L110.6 449.7 L111.6 449.7 L112.6 449.6 L113.6 449.6 L114.6 449.6 L115.6 449.5 L116.6 449.5 L117.6 449.5 L118.6 449.4 L119.6 449.4 L120.6 449.3 L121.6 449.3 L122.6 449.3 L123.6 449.2 L124.6 449.2 L125.6 449.2 L126.6 449.1 L127.6 449.1 L128.6 449.1 L129.6 449.1 L130.6 449.0 L131.6 449.0 L132.6 449.0 L133.6 448.9 L134.6 448.9 L135.6 448.9 L136.6 448.8 L137.6 448.8 L138.6 448.8 L139.6 448.7 L140.6 448.7 L141.6 448.7 L142.6 448.7 L143.6 448.6 L144.6 448.6 L145.6 448.6 L146.6 448.5 L147.6 448.5 L148.6 448.4 L149.6 448.4 L150.6 448.4 L151.6 448.3 L152.6 448.3 L153.6 448.3 L154.6 448.2 L155.6 448.2 L156.6 448.1 L157.6 448.1 L158.6 448.1 L159.6 448.0 L160.6 448.0 L161.6 448.0 L162.6 447.9 L163.6 447.9 L164.6 447.9 L165.6 447.8 L166.6 447.8 L167.6 447.8 L168.6 447.8 L169.6 447.8 L170.6 447.8 L171.6 447.7 L172.6 447.7 L173.6 447.7 L174.6 447.6 L175.6 447.6 L176.6 447.5 L177.6 447.3 L178.6 447.2 L179.6 447.1 L180.6 446.9 L181.6 446.7 L182.6 446.6 L183.6 446.4 L184.6 446.2 L185.6 446.1 L186.6 445.9 L187.6 445.8 L188.6 445.6 L189.6 445.5 L190.6 445.4 L191.6 445.2 L192.6 445.1 L193.6 444.9 L194.6 444.8 L195.6 444.6 L196.6 444.4 L197.6 444.3 L198.6 444.1 L199.6 443.9 L200.6 443.7 L201.6 443.5 L202.6 443.3 L203.6 443.1 L204.6 442.8 L205.6 442.6 L206.6 442.3 L207.6 442.1 L208.6 441.8 L209.6 441.6 L210.6 441.3 L211.6 441.0 L212.6 440.7 L213.6 440.5 L214.6 440.2 L215.6 439.9 L216.6 439.6 L217.6 439.3 L218.6 439.1 L219.6 438.8 L220.6 438.5 L221.6 438.2 L222.6 437.9 L223.6 437.6 L224.6 437.2 L225.6 436.9 L226.6 436.6 L227.6 436.3 L228.6 435.9 L229.6 435.6 L230.6 435.2 L231.6 434.9 L232.6 434.5 L233.6 434.1 L234.6 433.7 L235.6 433.3 L236.6 432.9 L237.6 432.5 L238.6 432.1 L239.6 431.7 L240.6 431.2 L241.6 430.7 L242.6 430.3 L243.6 429.8 L244.6 429.3 L245.6 428.7 L246.6 428.2 L247.6 427.7 L248.6 427.2 L249.6 426.7 L250.6 426.2 L251.6 425.7 L252.6 425.2 L253.6 424.7 L254.6 424.3 L255.6 423.9 L256.6 423.5 L257.6 423.1 L258.6 422.8 L259.6 422.4 L260.6 422.1 L261.6 421.7 L262.6 421.3 L263.6 420.9 L264.6 420.4 L265.6 420.0 L266.6 419.5 L267.6 419.0 L268.6 418.5 L269.6 418.0 L270.6 417.5 L271.6 416.9 L272.6 416.4 L273.6 415.8 L274.6 415.3 L275.6 414.7 L276.6 414.0 L277.6 413.4 L278.6 412.7 L279.6 412.0 L280.6 411.3 L281.6 410.6 L282.6 409.8 L283.6 409.1 L284.6 408.3 L285.6 407.5 L286.6 406.6 L287.6 405.8 L288.6 404.9 L289.6 404.0 L290.6 403.1 L291.6 402.1 L292.6 401.0 L293.6 400.0 L294.6 398.9 L295.6 397.7 L296.6 396.6 L297.6 395.4 L298.6 394.3 L299.6 393.2 L300.6 392.0 L301.6 391.0 L302.6 389.8 L303.6 388.7 L304.6 387.4 L305.6 386.1 L306.6 384.6 L307.6 383.1 L308.6 381.5 L309.6 379.8 L310.6 378.1 L311.6 376.4 L312.6 374.6 L313.6 372.8 L314.6 371.0 L315.6 369.2 L316.6 367.4 L317.6 365.6 L318.6 363.8 L319.6 361.9 L320.6 360.1 L321.6 358.4 L322.6 356.6 L323.6 354.9 L324.6 353.2 L325.6 351.6 L326.6 350.0 L327.6 348.4 L328.6 346.8 L329.6 345.2 L330.6 343.7 L331.6 342.1 L332.6 340.6 L333.6 339.0 L334.6 337.5 L335.6 336.0 L336.6 334.5 L337.6 333.0 L338.6 331.6 L339.6 330.2 L340.6 328.9 L341.6 327.6 L342.6 326.2 L343.6 324.7 L344.6 323.3 L345.6 322.0 L346.6 320.9 L347.6 320.0 L348.6 319.3 L349.6 318.8 L350.6 318.4 L351.6 318.0 L352.6 317.6 L353.6 317.1 L354.6 316.7 L355.6 316.3 L356.6 315.9 L357.6 315.5 L358.6 315.3 L359.6 315.0 L360.6 314.9 L361.6 314.9 L362.6 314.9 L363.6 315.0 L364.6 315.1 L365.6 315.2 L366.6 315.4 L367.6 315.6 L368.6 315.9 L369.6 316.1 L370.6 316.4 L371.6 316.7 L372.6 317.0 L373.6 317.3 L374.6 317.6 L375.6 317.9 L376.6 318.2 L377.6 318.5 L378.6 318.8 L379.6 319.1 L380.6 319.3 L381.6 319.5 L382.6 319.7 L383.6 319.8 L384.6 319.9 L385.6 319.9 L386.6 320.0 L387.6 319.9 L388.6 319.8 L389.6 319.7 L390.6 319.5 L391.6 319.3 L392.6 319.0 L393.6 318.7 L394.6 318.4 L395.6 318.0 L396.6 317.5 L397.6 317.0 L398.6 316.5 L399.6 316.0 L400.6 315.4 L401.6 314.7 L402.6 314.1 L403.6 313.4 L404.6 312.7 L405.6 312.0 L406.6 311.3 L407.6 310.6 L408.6 310.0 L409.6 309.4 L410.6 308.8 L411.6 308.2 L412.6 307.7 L413.6 307.2 L414.6 306.7 L415.6 306.3 L416.6 305.9 L417.6 305.5 L418.6 305.1 L419.6 304.8 L420.6 304.6 L421.6 304.4 L422.6 304.4 L423.6 304.3 L424.6 304.4 L425.6 304.5 L426.6 304.6 L427.6 304.8 L428.6 305.1 L429.6 305.5 L430.6 305.9 L431.6 306.4 L432.6 307.0 L433.6 307.7 L434.6 308.5 L435.6 309.4 L436.6 310.3 L437.6 311.4 L438.6 312.4 L439.6 313.5 L440.6 314.7 L441.6 316.0 L442.6 317.3 L443.6 318.8 L444.6 320.4 L445.6 322.1 L446.6 323.9 L447.6 325.7 L448.6 327.6 L449.6 329.4 L450.6 331.3 L451.6 333.2 L452.6 335.0 L453.6 336.8 L454.6 338.6 L455.6 340.6 L456.6 342.7 L457.6 345.1 L458.6 347.7 L459.6 350.5 L460.6 353.6 L461.6 356.9 L462.6 360.2 L463.6 363.4 L464.6 366.5 L465.6 369.5 L466.6 372.4 L467.6 375.2 L468.6 378.0 L469.6 380.7 L470.6 383.3 L471.6 385.8 L472.6 388.3 L473.6 390.7 L474.6 393.1 L475.6 395.5 L476.6 397.7 L477.6 400.0 L478.6 402.1 L479.6 404.3 L480.6 406.3 L481.6 408.4 L482.6 410.4 L483.6 412.3 L484.6 414.2 L485.6 416.0 L486.6 417.8 L487.6 419.5 L488.6 421.2 L489.6 422.8 L490.6 424.4 L491.6 426.0 L492.6 427.5 L493.6 428.9 L494.6 430.3 L495.6 431.7 L496.6 433.0 L497.6 434.3 L498.6 435.5 L499.6 436.7 L500.6 437.8 L501.6 438.9 L502.6 439.9 L503.6 440.8 L504.6 441.8 L505.6 442.6 L506.6 443.5 L507.6 444.2 L508.6 445.0 L509.6 445.6 L510.6 446.3 L511.6 446.9 L512.6 447.5 L513.6 448.1 L514.6 448.6 L515.6 449.1 L516.6 449.6 L517.6 450.1 L518.6 450.5 L519.6 451.0 L520.6 451.4 L521.6 451.8 L522.6 452.2 L523.6 452.6 L524.6 452.9 L525.6 453.3 L526.6 453.6 L527.6 454.0 L528.6 454.3 L529.6 454.6 L530.6 454.9 L531.6 455.1 L532.6 455.4 L533.6 455.6 L534.6 455.9 L535.6 456.1 L536.6 456.3 L537.6 456.4 L538.6 456.6 L539.6 456.7 L540.6 456.8 L541.6 456.9 L542.6 457.0 L543.6 457.0 L544.6 457.0 L545.6 457.1 L546.6 457.1 L547.6 457.2 L548.6 457.2 L549.6 457.2 L550.6 457.3 L551.6 457.4 L552.6 457.5 L553.6 457.6 L554.6 457.7 L555.6 457.8 L556.6 458.0 L557.6 458.1 L558.6 458.2 L559.6 458.4 L560.6 458.6 L561.6 458.7 L562.6 458.9 L563.6 459.1 L564.6 459.2 L565.6 459.4 L566.6 459.6 L567.6 459.8 L568.6 459.9 L569.6 460.1 L570.6 460.3 L571.6 460.5 L572.6 460.6 L573.6 460.8 L574.6 460.9 L575.6 461.1 L576.6 461.2 L577.6 461.3 L578.6 461.4 L579.6 461.6 L580.6 461.7 L581.6 461.8 L582.6 461.9 L583.6 462.0 L584.6 462.0 L585.6 462.1 L586.6 462.2 L587.6 462.2 L588.6 462.3 L589.6 462.3 L590.6 462.4 L591.6 462.4 L592.6 462.4 L593.6 462.5 L594.6 462.5 L595.6 462.5 L596.6 462.5 L597.6 462.5 L598.6 462.5 L599.6 462.5 L600.6 462.5 L601.6 462.4 L602.6 462.4 L603.6 462.4 L604.6 462.4 L605.6 462.3 L606.6 462.3 L607.6 462.3 L608.6 462.3 L609.6 462.3 L610.6 462.3 L611.6 462.4 L612.6 462.4 L613.6 462.5 L614.6 462.5 L615.6 462.6 L616.6 462.6 L617.6 462.7 L618.6 462.8 L619.6 462.9 L620.6 462.9 L621.6 463.0 L622.6 463.1 L623.6 463.2 L624.6 463.2 L625.6 463.3 L626.6 463.4 L627.6 463.4 L628.6 463.5 L629.6 463.5 L630.6 463.6 L631.6 463.6 L632.6 463.7 L633.6 463.7 L634.6 463.7 L635.6 463.8 L636.6 463.8 L637.6 463.8 L638.6 463.9 L639.6 463.9 L640.6 463.9 L641.6 463.9 L642.6 463.9 L643.6 464.0 L644.6 464.0 L645.6 464.0 L646.6 464.0 L647.6 464.0 L648.6 464.0 L649.6 464.0 L650.6 464.0 L651.6 464.0 L652.6 464.0 L653.6 464.0 L654.6 464.0 L655.6 464.0 L656.6 464.0 L657.6 464.0 L658.6 464.0 L659.6 464.0 L660.6 464.0 L661.6 464.0" fill="none" stroke="#000080" stroke-width="4.8" stroke-linejoin="round" stroke-linecap="butt"/>
<path d="M75.6 804.7 L76.6 804.7 L77.6 804.7 L78.6 804.7 L79.6 804.7 L80.6 804.7 L81.6 804.7 L82.6 804.7 L83.6 804.7 L84.6 804.7 L85.6 804.7 L86.6 804.7 L87.6 804.6 L88.6 804.6 L89.6 804.6 L90.6 804.6 L91.6 804.6 L92.6 804.6 L93.6 804.6 L94.6 804.6 L95.6 804.6 L96.6 804.6 L97.6 804.6 L98.6 804.6 L99.6 804.6 L100.6 804.6 L101.6 804.6 L102.6 804.5 L103.6 804.5 L104.6 804.5 L105.6 804.5 L106.6 804.5 L107.6 804.5 L108.6 804.5 L109.6 804.5 L110.6 804.5 L111.6 804.5 L112.6 804.5 L113.6 804.5 L114.6 804.5 L115.6 804.4 L116.6 804.4 L117.6 804.4 L118.6 804.4 L119.6 804.4 L120.6 804.4 L121.6 804.4 L122.6 804.4 L123.6 804.4 L124.6 804.4 L125.6 804.3 L126.6 804.3 L127.6 804.3 L128.6 804.3 L129.6 804.3 L130.6 804.3 L131.6 804.3 L132.6 804.3 L133.6 804.2 L134.6 804.2 L135.6 804.2 L136.6 804.2 L137.6 804.2 L138.6 804.2 L139.6 804.1 L140.6 804.1 L141.6 804.1 L142.6 804.1 L143.6 804.1 L144.6 804.0 L145.6 804.0 L146.6 804.0 L147.6 804.0 L148.6 803.9 L149.6 803.9 L150.6 803.9 L151.6 803.9 L152.6 803.8 L153.6 803.8 L154.6 803.8 L155.6 803.7 L156.6 803.7 L157.6 803.7 L158.6 803.6 L159.6 803.6 L160.6 803.5 L161.6 803.5 L162.6 803.4 L163.6 803.4 L164.6 803.3 L165.6 803.2 L166.6 803.2 L167.6 803.1 L168.6 803.0 L169.6 803.0 L170.6 802.9 L171.6 802.8 L172.6 802.7 L173.6 802.6 L174.6 802.5 L175.6 802.4 L176.6 802.3 L177.6 802.1 L178.6 802.0 L179.6 801.9 L180.6 801.7 L181.6 801.6 L182.6 801.4 L183.6 801.3 L184.6 801.1 L185.6 800.9 L186.6 800.7 L187.6 800.5 L188.6 800.3 L189.6 800.0 L190.6 799.8 L191.6 799.6 L192.6 799.3 L193.6 799.0 L194.6 798.7 L195.6 798.4 L196.6 798.1 L197.6 797.8 L198.6 797.4 L199.6 797.1 L200.6 796.7 L201.6 796.3 L202.6 795.9 L203.6 795.5 L204.6 795.1 L205.6 794.6 L206.6 794.1 L207.6 793.7 L208.6 793.2 L209.6 792.6 L210.6 792.1 L211.6 791.6 L212.6 791.0 L213.6 790.4 L214.6 789.8 L215.6 789.2 L216.6 788.6 L217.6 787.9 L218.6 787.2 L219.6 786.6 L220.6 785.9 L221.6 785.1 L222.6 784.4 L223.6 783.7 L224.6 782.9 L225.6 782.2 L226.6 781.4 L227.6 780.6 L228.6 779.8 L229.6 779.0 L230.6 778.2 L231.6 777.4 L232.6 776.5 L233.6 775.7 L234.6 774.9 L235.6 774.0 L236.6 773.2 L237.6 772.3 L238.6 771.5 L239.6 770.6 L240.6 769.8 L241.6 768.9 L242.6 768.1 L243.6 767.2 L244.6 766.4 L245.6 765.6 L246.6 764.8 L247.6 764.0 L248.6 763.2 L249.6 762.4 L250.6 761.6 L251.6 760.9 L252.6 760.2 L253.6 759.4 L254.6 758.7 L255.6 758.1 L256.6 757.4 L257.6 756.8 L258.6 756.2 L259.6 755.6 L260.6 755.0 L261.6 754.5 L262.6 754.0 L263.6 753.5 L264.6 753.0 L265.6 752.6 L266.6 752.2 L267.6 751.8 L268.6 751.5 L269.6 751.1 L270.6 750.8 L271.6 750.5 L272.6 750.3 L273.6 750.0 L274.6 749.8 L275.6 749.6 L276.6 749.4 L277.6 749.3 L278.6 749.1 L279.6 749.0 L280.6 748.8 L281.6 748.7 L282.6 748.6 L283.6 748.5 L284.6 748.4 L285.6 748.3 L286.6 748.2 L287.6 748.1 L288.6 748.0 L289.6 747.9 L290.6 747.7 L291.6 747.6 L292.6 747.5 L293.6 747.3 L294.6 747.2 L295.6 747.0 L296.6 746.8 L297.6 746.6 L298.6 746.4 L299.6 746.2 L300.6 745.9 L301.6 745.7 L302.6 745.4 L303.6 745.1 L304.6 744.8 L305.6 744.4 L306.6 744.1 L307.6 743.7 L308.6 743.3 L309.6 742.9 L310.6 742.5 L311.6 742.1 L312.6 741.6 L313.6 741.1 L314.6 740.7 L315.6 740.2 L316.6 739.7 L317.6 739.2 L318.6 738.7 L319.6 738.2 L320.6 737.6 L321.6 737.1 L322.6 736.6 L323.6 736.1 L324.6 735.6 L325.6 735.1 L326.6 734.6 L327.6 734.1 L328.6 733.7 L329.6 733.2 L330.6 732.8 L331.6 732.4 L332.6 732.0 L333.6 731.7 L334.6 731.4 L335.6 731.1 L336.6 730.9 L337.6 730.7 L338.6 730.5 L339.6 730.4 L340.6 730.3 L341.6 730.2 L342.6 730.2 L343.6 730.3 L344.6 730.4 L345.6 730.6 L346.6 730.8 L347.6 731.0 L348.6 731.3 L349.6 731.7 L350.6 732.1 L351.6 732.5 L352.6 733.1 L353.6 733.6 L354.6 734.2 L355.6 734.9 L356.6 735.6 L357.6 736.3 L358.6 737.1 L359.6 737.9 L360.6 738.8 L361.6 739.7 L362.6 740.7 L363.6 741.6 L364.6 742.6 L365.6 743.7 L366.6 744.7 L367.6 745.8 L368.6 746.9 L369.6 748.1 L370.6 749.2 L371.6 750.4 L372.6 751.6 L373.6 752.8 L374.6 754.0 L375.6 755.2 L376.6 756.4 L377.6 757.6 L378.6 758.8 L379.6 760.1 L380.6 761.3 L381.6 762.5 L382.6 763.7 L383.6 764.9 L384.6 766.1 L385.6 767.3 L386.6 768.5 L387.6 769.6 L388.6 770.8 L389.6 771.9 L390.6 773.0 L391.6 774.1 L392.6 775.2 L393.6 776.3 L394.6 777.3 L395.6 778.3 L396.6 779.3 L397.6 780.3 L398.6 781.2 L399.6 782.2 L400.6 783.1 L401.6 783.9 L402.6 784.8 L403.6 785.6 L404.6 786.4 L405.6 787.2 L406.6 788.0 L407.6 788.7 L408.6 789.4 L409.6 790.1 L410.6 790.8 L411.6 791.4 L412.6 792.0 L413.6 792.6 L414.6 793.2 L415.6 793.7 L416.6 794.3 L417.6 794.8 L418.6 795.2 L419.6 795.7 L420.6 796.1 L421.6 796.6 L422.6 797.0 L423.6 797.4 L424.6 797.7 L425.6 798.1 L426.6 798.4 L427.6 798.7 L428.6 799.0 L429.6 799.3 L430.6 799.6 L431.6 799.8 L432.6 800.1 L433.6 800.3 L434.6 800.5 L435.6 800.7 L436.6 800.9 L437.6 801.1 L438.6 801.3 L439.6 801.5 L440.6 801.6 L441.6 801.8 L442.6 801.9 L443.6 802.0 L444.6 802.2 L445.6 802.3 L446.6 802.4 L447.6 802.5 L448.6 802.6 L449.6 802.7 L450.6 802.8 L451.6 802.9 L452.6 802.9 L453.6 803.0 L454.6 803.1 L455.6 803.1 L456.6 803.2 L457.6 803.3 L458.6 803.3 L459.6 803.4 L460.6 803.4 L461.6 803.5 L462.6 803.5 L463.6 803.6 L464.6 803.6 L465.6 803.6 L466.6 803.7 L467.6 803.7 L468.6 803.7 L469.6 803.8 L470.6 803.8 L471.6 803.8 L472.6 803.9 L473.6 803.9 L474.6 803.9 L475.6 803.9 L476.6 803.9 L477.6 804.0 L478.6 804.0 L479.6 804.0 L480.6 804.0 L481.6 804.0 L482.6 804.1 L483.6 804.1 L484.6 804.1 L485.6 804.1 L486.6 804.1 L487.6 804.2 L488.6 804.2 L489.6 804.2 L490.6 804.2 L491.6 804.2 L492.6 804.2 L493.6 804.2 L494.6 804.2 L495.6 804.3 L496.6 804.3 L497.6 804.3 L498.6 804.3 L499.6 804.3 L500.6 804.3 L501.6 804.3 L502.6 804.3 L503.6 804.4 L504.6 804.4 L505.6 804.4 L506.6 804.4 L507.6 804.4 L508.6 804.4 L509.6 804.4 L510.6 804.4 L511.6 804.4 L512.6 804.4 L513.6 804.4 L514.6 804.5 L515.6 804.5 L516.6 804.5 L517.6 804.5 L518.6 804.5 L519.6 804.5 L520.6 804.5 L521.6 804.5 L522.6 804.5 L523.6 804.5 L524.6 804.5 L525.6 804.5 L526.6 804.6 L527.6 804.6 L528.6 804.6 L529.6 804.6 L530.6 804.6 L531.6 804.6 L532.6 804.6 L533.6 804.6 L534.6 804.6 L535.6 804.6 L536.6 804.6 L537.6 804.6 L538.6 804.6 L539.6 804.6 L540.6 804.6 L541.6 804.6 L542.6 804.7 L543.6 804.7 L544.6 804.7 L545.6 804.7 L546.6 804.7 L547.6 804.7 L548.6 804.7 L549.6 804.7 L550.6 804.7 L551.6 804.7 L552.6 804.7 L553.6 804.7 L554.6 804.7 L555.6 804.7 L556.6 804.7 L557.6 804.7 L558.6 804.7 L559.6 804.7 L560.6 804.7 L561.6 804.7 L562.6 804.8 L563.6 804.8 L564.6 804.8 L565.6 804.8 L566.6 804.8 L567.6 804.8 L568.6 804.8 L569.6 804.8 L570.6 804.8 L571.6 804.8 L572.6 804.8 L573.6 804.8 L574.6 804.8 L575.6 804.8 L576.6 804.8 L577.6 804.8 L578.6 804.8 L579.6 804.8 L580.6 804.8 L581.6 804.8 L582.6 804.8 L583.6 804.8 L584.6 804.8 L585.6 804.8 L586.6 804.8 L587.6 804.8 L588.6 804.9 L589.6 804.9 L590.6 804.9 L591.6 804.9 L592.6 804.9 L593.6 804.9 L594.6 804.9 L595.6 804.9 L596.6 804.9 L597.6 804.9 L598.6 804.9 L599.6 804.9 L600.6 804.9 L601.6 804.9 L602.6 804.9 L603.6 804.9 L604.6 804.9 L605.6 804.9 L606.6 804.9 L607.6 804.9 L608.6 804.9 L609.6 804.9 L610.6 804.9 L611.6 804.9 L612.6 804.9 L613.6 804.9 L614.6 804.9 L615.6 804.9 L616.6 804.9 L617.6 804.9 L618.6 804.9 L619.6 804.9 L620.6 804.9 L621.6 804.9 L622.6 804.9 L623.6 804.9 L624.6 804.9 L625.6 804.9 L626.6 805.0 L627.6 805.0 L628.6 805.0 L629.6 805.0 L630.6 805.0 L631.6 805.0 L632.6 805.0 L633.6 805.0 L634.6 805.0 L635.6 805.0 L636.6 805.0 L637.6 805.0 L638.6 805.0 L639.6 805.0 L640.6 805.0 L641.6 805.0 L642.6 805.0 L643.6 805.0 L644.6 805.0 L645.6 805.0 L646.6 805.0 L647.6 805.0 L648.6 805.0 L649.6 805.0 L650.6 805.0 L651.6 805.0 L652.6 805.0 L653.6 805.0 L654.6 805.0 L655.6 805.0 L656.6 805.0 L657.6 805.0 L658.6 805.0 L659.6 805.0 L660.6 805.0 L661.6 805.0" fill="none" stroke="#0a0aee" stroke-width="4.2" stroke-linejoin="round" stroke-linecap="butt"/>
<path d="M75.6 805.0 L76.6 805.0 L77.6 805.0 L78.6 804.9 L79.6 804.9 L80.6 804.9 L81.6 804.9 L82.6 804.9 L83.6 804.9 L84.6 804.9 L85.6 804.9 L86.6 804.9 L87.6 804.9 L88.6 804.9 L89.6 804.9 L90.6 804.8 L91.6 804.8 L92.6 804.8 L93.6 804.8 L94.6 804.8 L95.6 804.8 L96.6 804.8 L97.6 804.8 L98.6 804.8 L99.6 804.8 L100.6 804.8 L101.6 804.7 L102.6 804.7 L103.6 804.7 L104.6 804.7 L105.6 804.7 L106.6 804.7 L107.6 804.7 L108.6 804.7 L109.6 804.7 L110.6 804.6 L111.6 804.6 L112.6 804.6 L113.6 804.6 L114.6 804.6 L115.6 804.6 L116.6 804.6 L117.6 804.6 L118.6 804.6 L119.6 804.5 L120.6 804.5 L121.6 804.5 L122.6 804.5 L123.6 804.5 L124.6 804.5 L125.6 804.5 L126.6 804.5 L127.6 804.4 L128.6 804.4 L129.6 804.4 L130.6 804.4 L131.6 804.4 L132.6 804.4 L133.6 804.4 L134.6 804.3 L135.6 804.3 L136.6 804.3 L137.6 804.3 L138.6 804.3 L139.6 804.3 L140.6 804.3 L141.6 804.2 L142.6 804.2 L143.6 804.2 L144.6 804.2 L145.6 804.2 L146.6 804.2 L147.6 804.1 L148.6 804.1 L149.6 804.1 L150.6 804.1 L151.6 804.1 L152.6 804.0 L153.6 804.0 L154.6 804.0 L155.6 804.0 L156.6 804.0 L157.6 804.0 L158.6 803.9 L159.6 803.9 L160.6 803.9 L161.6 803.9 L162.6 803.9 L163.6 803.8 L164.6 803.8 L165.6 803.8 L166.6 803.8 L167.6 803.7 L168.6 803.7 L169.6 803.7 L170.6 803.7 L171.6 803.7 L172.6 803.6 L173.6 803.6 L174.6 803.6 L175.6 803.6 L176.6 803.5 L177.6 803.5 L178.6 803.5 L179.6 803.5 L180.6 803.4 L181.6 803.4 L182.6 803.4 L183.6 803.4 L184.6 803.3 L185.6 803.3 L186.6 803.3 L187.6 803.2 L188.6 803.2 L189.6 803.2 L190.6 803.1 L191.6 803.1 L192.6 803.1 L193.6 803.1 L194.6 803.0 L195.6 803.0 L196.6 802.9 L197.6 802.9 L198.6 802.9 L199.6 802.8 L200.6 802.8 L201.6 802.8 L202.6 802.7 L203.6 802.7 L204.6 802.7 L205.6 802.6 L206.6 802.6 L207.6 802.5 L208.6 802.5 L209.6 802.4 L210.6 802.4 L211.6 802.3 L212.6 802.3 L213.6 802.2 L214.6 802.2 L215.6 802.1 L216.6 802.1 L217.6 802.0 L218.6 802.0 L219.6 801.9 L220.6 801.9 L221.6 801.8 L222.6 801.7 L223.6 801.7 L224.6 801.6 L225.6 801.5 L226.6 801.5 L227.6 801.4 L228.6 801.3 L229.6 801.2 L230.6 801.1 L231.6 801.1 L232.6 801.0 L233.6 800.9 L234.6 800.8 L235.6 800.7 L236.6 800.5 L237.6 800.4 L238.6 800.3 L239.6 800.2 L240.6 800.1 L241.6 799.9 L242.6 799.8 L243.6 799.6 L244.6 799.5 L245.6 799.3 L246.6 799.1 L247.6 798.9 L248.6 798.7 L249.6 798.5 L250.6 798.3 L251.6 798.1 L252.6 797.8 L253.6 797.6 L254.6 797.3 L255.6 797.0 L256.6 796.7 L257.6 796.4 L258.6 796.1 L259.6 795.7 L260.6 795.4 L261.6 795.0 L262.6 794.6 L263.6 794.2 L264.6 793.7 L265.6 793.2 L266.6 792.8 L267.6 792.2 L268.6 791.7 L269.6 791.1 L270.6 790.5 L271.6 789.9 L272.6 789.2 L273.6 788.5 L274.6 787.8 L275.6 787.1 L276.6 786.3 L277.6 785.4 L278.6 784.6 L279.6 783.7 L280.6 782.7 L281.6 781.8 L282.6 780.8 L283.6 779.7 L284.6 778.6 L285.6 777.5 L286.6 776.3 L287.6 775.0 L288.6 773.8 L289.6 772.4 L290.6 771.1 L291.6 769.7 L292.6 768.2 L293.6 766.7 L294.6 765.1 L295.6 763.5 L296.6 761.9 L297.6 760.2 L298.6 758.5 L299.6 756.7 L300.6 754.8 L301.6 753.0 L302.6 751.0 L303.6 749.1 L304.6 747.1 L305.6 745.0 L306.6 742.9 L307.6 740.8 L308.6 738.6 L309.6 736.4 L310.6 734.1 L311.6 731.9 L312.6 729.6 L313.6 727.2 L314.6 724.8 L315.6 722.5 L316.6 720.0 L317.6 717.6 L318.6 715.2 L319.6 712.7 L320.6 710.2 L321.6 707.7 L322.6 705.2 L323.6 702.7 L324.6 700.2 L325.6 697.8 L326.6 695.3 L327.6 692.8 L328.6 690.3 L329.6 687.9 L330.6 685.5 L331.6 683.1 L332.6 680.7 L333.6 678.4 L334.6 676.1 L335.6 673.9 L336.6 671.7 L337.6 669.5 L338.6 667.4 L339.6 665.4 L340.6 663.4 L341.6 661.4 L342.6 659.6 L343.6 657.8 L344.6 656.0 L345.6 654.4 L346.6 652.8 L347.6 651.2 L348.6 649.8 L349.6 648.4 L350.6 647.2 L351.6 645.9 L352.6 644.8 L353.6 643.7 L354.6 642.8 L355.6 641.8 L356.6 641.0 L357.6 640.2 L358.6 639.5 L359.6 638.9 L360.6 638.3 L361.6 637.7 L362.6 637.2 L363.6 636.8 L364.6 636.3 L365.6 636.0 L366.6 635.6 L367.6 635.3 L368.6 635.0 L369.6 634.7 L370.6 634.4 L371.6 634.1 L372.6 633.8 L373.6 633.5 L374.6 633.2 L375.6 632.9 L376.6 632.6 L377.6 632.2 L378.6 631.8 L379.6 631.4 L380.6 630.9 L381.6 630.4 L382.6 629.9 L383.6 629.3 L384.6 628.6 L385.6 628.0 L386.6 627.2 L387.6 626.4 L388.6 625.6 L389.6 624.7 L390.6 623.7 L391.6 622.7 L392.6 621.7 L393.6 620.6 L394.6 619.4 L395.6 618.2 L396.6 617.0 L397.6 615.7 L398.6 614.4 L399.6 613.0 L400.6 611.6 L401.6 610.2 L402.6 608.7 L403.6 607.2 L404.6 605.7 L405.6 604.2 L406.6 602.7 L407.6 601.2 L408.6 599.7 L409.6 598.2 L410.6 596.7 L411.6 595.2 L412.6 593.8 L413.6 592.4 L414.6 591.1 L415.6 589.8 L416.6 588.6 L417.6 587.4 L418.6 586.3 L419.6 585.3 L420.6 584.4 L421.6 583.6 L422.6 582.9 L423.6 582.3 L424.6 581.8 L425.6 581.5 L426.6 581.2 L427.6 581.1 L428.6 581.2 L429.6 581.3 L430.6 581.7 L431.6 582.1 L432.6 582.8 L433.6 583.5 L434.6 584.4 L435.6 585.5 L436.6 586.7 L437.6 588.1 L438.6 589.6 L439.6 591.3 L440.6 593.0 L441.6 595.0 L442.6 597.1 L443.6 599.3 L444.6 601.6 L445.6 604.0 L446.6 606.6 L447.6 609.2 L448.6 612.0 L449.6 614.9 L450.6 617.8 L451.6 620.9 L452.6 624.0 L453.6 627.2 L454.6 630.4 L455.6 633.7 L456.6 637.1 L457.6 640.5 L458.6 644.0 L459.6 647.4 L460.6 650.9 L461.6 654.5 L462.6 658.0 L463.6 661.6 L464.6 665.1 L465.6 668.7 L466.6 672.2 L467.6 675.8 L468.6 679.3 L469.6 682.8 L470.6 686.3 L471.6 689.8 L472.6 693.2 L473.6 696.6 L474.6 699.9 L475.6 703.2 L476.6 706.5 L477.6 709.7 L478.6 712.8 L479.6 715.9 L480.6 719.0 L481.6 722.0 L482.6 724.9 L483.6 727.8 L484.6 730.6 L485.6 733.3 L486.6 736.0 L487.6 738.6 L488.6 741.1 L489.6 743.6 L490.6 746.0 L491.6 748.3 L492.6 750.6 L493.6 752.8 L494.6 754.9 L495.6 756.9 L496.6 758.9 L497.6 760.9 L498.6 762.7 L499.6 764.5 L500.6 766.2 L501.6 767.9 L502.6 769.5 L503.6 771.0 L504.6 772.5 L505.6 773.9 L506.6 775.3 L507.6 776.6 L508.6 777.8 L509.6 779.0 L510.6 780.2 L511.6 781.2 L512.6 782.3 L513.6 783.3 L514.6 784.2 L515.6 785.1 L516.6 786.0 L517.6 786.8 L518.6 787.6 L519.6 788.4 L520.6 789.1 L521.6 789.7 L522.6 790.4 L523.6 791.0 L524.6 791.6 L525.6 792.1 L526.6 792.6 L527.6 793.1 L528.6 793.6 L529.6 794.0 L530.6 794.5 L531.6 794.9 L532.6 795.2 L533.6 795.6 L534.6 795.9 L535.6 796.2 L536.6 796.6 L537.6 796.8 L538.6 797.1 L539.6 797.4 L540.6 797.6 L541.6 797.9 L542.6 798.1 L543.6 798.3 L544.6 798.5 L545.6 798.7 L546.6 798.9 L547.6 799.0 L548.6 799.2 L549.6 799.3 L550.6 799.5 L551.6 799.6 L552.6 799.8 L553.6 799.9 L554.6 800.0 L555.6 800.1 L556.6 800.2 L557.6 800.4 L558.6 800.5 L559.6 800.6 L560.6 800.6 L561.6 800.7 L562.6 800.8 L563.6 800.9 L564.6 801.0 L565.6 801.1 L566.6 801.2 L567.6 801.2 L568.6 801.3 L569.6 801.4 L570.6 801.4 L571.6 801.5 L572.6 801.6 L573.6 801.6 L574.6 801.7 L575.6 801.7 L576.6 801.8 L577.6 801.9 L578.6 801.9 L579.6 802.0 L580.6 802.0 L581.6 802.1 L582.6 802.1 L583.6 802.2 L584.6 802.2 L585.6 802.3 L586.6 802.3 L587.6 802.4 L588.6 802.4 L589.6 802.4 L590.6 802.5 L591.6 802.5 L592.6 802.6 L593.6 802.6 L594.6 802.6 L595.6 802.7 L596.6 802.7 L597.6 802.8 L598.6 802.8 L599.6 802.8 L600.6 802.9 L601.6 802.9 L602.6 802.9 L603.6 803.0 L604.6 803.0 L605.6 803.0 L606.6 803.1 L607.6 803.1 L608.6 803.1 L609.6 803.2 L610.6 803.2 L611.6 803.2 L612.6 803.2 L613.6 803.3 L614.6 803.3 L615.6 803.3 L616.6 803.4 L617.6 803.4 L618.6 803.4 L619.6 803.4 L620.6 803.5 L621.6 803.5 L622.6 803.5 L623.6 803.5 L624.6 803.6 L625.6 803.6 L626.6 803.6 L627.6 803.6 L628.6 803.7 L629.6 803.7 L630.6 803.7 L631.6 803.7 L632.6 803.7 L633.6 803.8 L634.6 803.8 L635.6 803.8 L636.6 803.8 L637.6 803.9 L638.6 803.9 L639.6 803.9 L640.6 803.9 L641.6 803.9 L642.6 804.0 L643.6 804.0 L644.6 804.0 L645.6 804.0 L646.6 804.0 L647.6 804.0 L648.6 804.1 L649.6 804.1 L650.6 804.1 L651.6 804.1 L652.6 804.1 L653.6 804.2 L654.6 804.2 L655.6 804.2 L656.6 804.2 L657.6 804.2 L658.6 804.2 L659.6 804.2 L660.6 804.3 L661.6 804.3" fill="none" stroke="#ff00ff" stroke-width="4.2" stroke-linejoin="round" stroke-linecap="butt"/>
<g fill="#fff" stroke="#000000" stroke-width="1.25" clip-path="url(#pc)"><circle cx="75.6" cy="736.1" r="7.3"/><circle cx="80.5" cy="736.9" r="7.3"/><circle cx="85.4" cy="736.8" r="7.3"/><circle cx="90.3" cy="736.8" r="7.3"/><circle cx="95.1" cy="737.7" r="7.3"/><circle cx="100.0" cy="737.6" r="7.3"/><circle cx="104.9" cy="739.1" r="7.3"/><circle cx="109.8" cy="740.7" r="7.3"/><circle cx="114.7" cy="739.1" r="7.3"/><circle cx="119.6" cy="739.0" r="7.3"/><circle cx="124.4" cy="740.3" r="7.3"/><circle cx="129.3" cy="740.4" r="7.3"/><circle cx="134.2" cy="740.4" r="7.3"/><circle cx="139.1" cy="739.5" r="7.3"/><circle cx="144.0" cy="740.4" r="7.3"/><circle cx="148.9" cy="741.0" r="7.3"/><circle cx="153.7" cy="738.9" r="7.3"/><circle cx="158.6" cy="739.6" r="7.3"/><circle cx="163.5" cy="737.9" r="7.3"/><circle cx="168.4" cy="738.1" r="7.3"/><circle cx="173.3" cy="736.9" r="7.3"/><circle cx="178.2" cy="737.7" r="7.3"/><circle cx="183.0" cy="735.6" r="7.3"/><circle cx="187.9" cy="736.0" r="7.3"/><circle cx="192.8" cy="734.6" r="7.3"/><circle cx="197.7" cy="732.6" r="7.3"/><circle cx="202.6" cy="728.3" r="7.3"/><circle cx="207.5" cy="727.9" r="7.3"/><circle cx="212.3" cy="725.8" r="7.3"/><circle cx="217.2" cy="723.2" r="7.3"/><circle cx="222.1" cy="718.6" r="7.3"/><circle cx="227.0" cy="716.3" r="7.3"/><circle cx="231.9" cy="712.0" r="7.3"/><circle cx="236.8" cy="707.7" r="7.3"/><circle cx="241.6" cy="704.8" r="7.3"/><circle cx="246.5" cy="697.8" r="7.3"/><circle cx="251.4" cy="693.1" r="7.3"/><circle cx="256.3" cy="687.4" r="7.3"/><circle cx="261.2" cy="677.5" r="7.3"/><circle cx="266.1" cy="672.7" r="7.3"/><circle cx="270.9" cy="668.9" r="7.3"/><circle cx="275.8" cy="664.1" r="7.3"/><circle cx="280.7" cy="657.2" r="7.3"/><circle cx="285.6" cy="651.2" r="7.3"/><circle cx="290.5" cy="644.0" r="7.3"/><circle cx="295.4" cy="632.1" r="7.3"/><circle cx="300.2" cy="625.2" r="7.3"/><circle cx="305.1" cy="615.0" r="7.3"/><circle cx="310.0" cy="604.3" r="7.3"/><circle cx="314.9" cy="596.2" r="7.3"/><circle cx="319.8" cy="584.0" r="7.3"/><circle cx="324.7" cy="569.7" r="7.3"/><circle cx="329.5" cy="558.1" r="7.3"/><circle cx="334.4" cy="545.0" r="7.3"/><circle cx="339.3" cy="530.7" r="7.3"/><circle cx="344.2" cy="521.2" r="7.3"/><circle cx="349.1" cy="515.1" r="7.3"/><circle cx="354.0" cy="514.3" r="7.3"/><circle cx="358.8" cy="516.0" r="7.3"/><circle cx="363.7" cy="518.0" r="7.3"/><circle cx="368.6" cy="526.6" r="7.3"/><circle cx="373.5" cy="534.9" r="7.3"/><circle cx="378.4" cy="542.9" r="7.3"/><circle cx="383.3" cy="546.6" r="7.3"/><circle cx="388.1" cy="550.0" r="7.3"/><circle cx="393.0" cy="551.5" r="7.3"/><circle cx="397.9" cy="551.7" r="7.3"/><circle cx="402.8" cy="548.9" r="7.3"/><circle cx="407.7" cy="541.7" r="7.3"/><circle cx="412.6" cy="535.9" r="7.3"/><circle cx="417.4" cy="530.8" r="7.3"/><circle cx="422.3" cy="524.0" r="7.3"/><circle cx="427.2" cy="525.3" r="7.3"/><circle cx="432.1" cy="527.8" r="7.3"/><circle cx="437.0" cy="531.9" r="7.3"/><circle cx="441.9" cy="538.3" r="7.3"/><circle cx="446.7" cy="548.9" r="7.3"/><circle cx="451.6" cy="564.5" r="7.3"/><circle cx="456.5" cy="582.9" r="7.3"/><circle cx="461.4" cy="606.1" r="7.3"/><circle cx="466.3" cy="624.2" r="7.3"/><circle cx="471.2" cy="646.5" r="7.3"/><circle cx="476.0" cy="664.3" r="7.3"/><circle cx="480.9" cy="682.1" r="7.3"/><circle cx="485.8" cy="699.1" r="7.3"/><circle cx="490.7" cy="712.5" r="7.3"/><circle cx="495.6" cy="726.3" r="7.3"/><circle cx="500.5" cy="735.9" r="7.3"/><circle cx="505.3" cy="745.3" r="7.3"/><circle cx="510.2" cy="749.6" r="7.3"/><circle cx="515.1" cy="752.6" r="7.3"/><circle cx="520.0" cy="754.9" r="7.3"/><circle cx="524.9" cy="755.3" r="7.3"/><circle cx="529.8" cy="758.7" r="7.3"/><circle cx="534.6" cy="758.4" r="7.3"/><circle cx="539.5" cy="759.0" r="7.3"/><circle cx="544.4" cy="757.0" r="7.3"/><circle cx="549.3" cy="758.5" r="7.3"/><circle cx="554.2" cy="756.6" r="7.3"/><circle cx="559.1" cy="756.5" r="7.3"/><circle cx="564.0" cy="758.6" r="7.3"/><circle cx="568.8" cy="758.5" r="7.3"/><circle cx="573.7" cy="760.1" r="7.3"/><circle cx="578.6" cy="762.6" r="7.3"/><circle cx="583.5" cy="759.9" r="7.3"/><circle cx="588.4" cy="760.4" r="7.3"/><circle cx="593.3" cy="761.4" r="7.3"/><circle cx="598.1" cy="761.9" r="7.3"/><circle cx="603.0" cy="761.3" r="7.3"/><circle cx="607.9" cy="761.5" r="7.3"/><circle cx="612.8" cy="762.7" r="7.3"/><circle cx="617.7" cy="763.0" r="7.3"/><circle cx="622.6" cy="762.1" r="7.3"/><circle cx="627.4" cy="763.7" r="7.3"/><circle cx="632.3" cy="764.5" r="7.3"/><circle cx="637.2" cy="763.6" r="7.3"/><circle cx="642.1" cy="764.6" r="7.3"/><circle cx="647.0" cy="763.2" r="7.3"/><circle cx="651.9" cy="765.1" r="7.3"/><circle cx="656.7" cy="764.7" r="7.3"/><circle cx="661.6" cy="765.1" r="7.3"/></g>
<path d="M75.6 744.5 L76.6 744.5 L77.6 744.5 L78.6 744.5 L79.6 744.5 L80.6 744.5 L81.6 744.5 L82.6 744.5 L83.6 744.5 L84.6 744.5 L85.6 744.5 L86.6 744.5 L87.6 744.5 L88.6 744.5 L89.6 744.5 L90.6 744.5 L91.6 744.5 L92.6 744.4 L93.6 744.4 L94.6 744.4 L95.6 744.4 L96.6 744.4 L97.6 744.4 L98.6 744.3 L99.6 744.3 L100.6 744.3 L101.6 744.3 L102.6 744.2 L103.6 744.2 L104.6 744.2 L105.6 744.1 L106.6 744.1 L107.6 744.0 L108.6 744.0 L109.6 744.0 L110.6 743.9 L111.6 743.9 L112.6 743.8 L113.6 743.8 L114.6 743.7 L115.6 743.7 L116.6 743.7 L117.6 743.6 L118.6 743.6 L119.6 743.5 L120.6 743.5 L121.6 743.4 L122.6 743.4 L123.6 743.4 L124.6 743.3 L125.6 743.3 L126.6 743.2 L127.6 743.2 L128.6 743.1 L129.6 743.1 L130.6 743.0 L131.6 743.0 L132.6 742.9 L133.6 742.9 L134.6 742.8 L135.6 742.8 L136.6 742.7 L137.6 742.6 L138.6 742.6 L139.6 742.5 L140.6 742.4 L141.6 742.3 L142.6 742.2 L143.6 742.2 L144.6 742.1 L145.6 742.0 L146.6 741.9 L147.6 741.8 L148.6 741.8 L149.6 741.7 L150.6 741.6 L151.6 741.5 L152.6 741.4 L153.6 741.3 L154.6 741.2 L155.6 741.1 L156.6 741.0 L157.6 740.9 L158.6 740.8 L159.6 740.7 L160.6 740.6 L161.6 740.5 L162.6 740.3 L163.6 740.2 L164.6 740.1 L165.6 739.9 L166.6 739.8 L167.6 739.7 L168.6 739.5 L169.6 739.4 L170.6 739.2 L171.6 739.0 L172.6 738.9 L173.6 738.7 L174.6 738.5 L175.6 738.3 L176.6 738.1 L177.6 737.9 L178.6 737.7 L179.6 737.5 L180.6 737.3 L181.6 737.1 L182.6 736.9 L183.6 736.6 L184.6 736.4 L185.6 736.2 L186.6 735.9 L187.6 735.7 L188.6 735.4 L189.6 735.1 L190.6 734.9 L191.6 734.6 L192.6 734.3 L193.6 734.0 L194.6 733.7 L195.6 733.3 L196.6 733.0 L197.6 732.6 L198.6 732.2 L199.6 731.8 L200.6 731.4 L201.6 731.0 L202.6 730.5 L203.6 730.1 L204.6 729.6 L205.6 729.1 L206.6 728.6 L207.6 728.1 L208.6 727.6 L209.6 727.0 L210.6 726.5 L211.6 726.0 L212.6 725.4 L213.6 724.8 L214.6 724.3 L215.6 723.7 L216.6 723.1 L217.6 722.5 L218.6 721.9 L219.6 721.3 L220.6 720.7 L221.6 720.0 L222.6 719.4 L223.6 718.7 L224.6 718.0 L225.6 717.3 L226.6 716.6 L227.6 715.9 L228.6 715.1 L229.6 714.3 L230.6 713.5 L231.6 712.7 L232.6 711.9 L233.6 711.0 L234.6 710.1 L235.6 709.2 L236.6 708.3 L237.6 707.4 L238.6 706.5 L239.6 705.5 L240.6 704.5 L241.6 703.5 L242.6 702.5 L243.6 701.5 L244.6 700.5 L245.6 699.4 L246.6 698.4 L247.6 697.3 L248.6 696.2 L249.6 695.1 L250.6 694.0 L251.6 692.9 L252.6 691.7 L253.6 690.6 L254.6 689.4 L255.6 688.3 L256.6 687.1 L257.6 685.9 L258.6 684.7 L259.6 683.5 L260.6 682.4 L261.6 681.3 L262.6 680.2 L263.6 679.2 L264.6 678.4 L265.6 677.5 L266.6 676.8 L267.6 676.0 L268.6 675.3 L269.6 674.6 L270.6 673.9 L271.6 673.2 L272.6 672.5 L273.6 671.8 L274.6 671.1 L275.6 670.3 L276.6 669.6 L277.6 668.8 L278.6 667.9 L279.6 667.1 L280.6 666.2 L281.6 665.2 L282.6 664.2 L283.6 663.1 L284.6 662.0 L285.6 660.8 L286.6 659.6 L287.6 658.3 L288.6 656.9 L289.6 655.4 L290.6 653.8 L291.6 652.2 L292.6 650.4 L293.6 648.6 L294.6 646.6 L295.6 644.5 L296.6 642.4 L297.6 640.1 L298.6 637.8 L299.6 635.4 L300.6 633.0 L301.6 630.6 L302.6 628.2 L303.6 625.8 L304.6 623.4 L305.6 621.1 L306.6 618.7 L307.6 616.4 L308.6 614.1 L309.6 611.7 L310.6 609.3 L311.6 606.8 L312.6 604.3 L313.6 601.6 L314.6 598.9 L315.6 596.2 L316.6 593.4 L317.6 590.6 L318.6 587.8 L319.6 584.9 L320.6 582.1 L321.6 579.3 L322.6 576.5 L323.6 573.7 L324.6 571.0 L325.6 568.3 L326.6 565.6 L327.6 563.0 L328.6 560.4 L329.6 557.9 L330.6 555.2 L331.6 552.6 L332.6 549.8 L333.6 547.1 L334.6 544.4 L335.6 541.7 L336.6 539.1 L337.6 536.6 L338.6 534.1 L339.6 531.8 L340.6 529.7 L341.6 527.7 L342.6 525.9 L343.6 524.2 L344.6 522.7 L345.6 521.4 L346.6 520.2 L347.6 519.2 L348.6 518.4 L349.6 517.7 L350.6 517.2 L351.6 516.8 L352.6 516.5 L353.6 516.4 L354.6 516.4 L355.6 516.5 L356.6 516.7 L357.6 517.0 L358.6 517.4 L359.6 517.9 L360.6 518.5 L361.6 519.1 L362.6 519.9 L363.6 520.7 L364.6 521.6 L365.6 522.6 L366.6 523.6 L367.6 524.7 L368.6 525.8 L369.6 526.9 L370.6 528.0 L371.6 529.1 L372.6 530.1 L373.6 531.2 L374.6 532.1 L375.6 533.0 L376.6 533.9 L377.6 534.7 L378.6 535.4 L379.6 536.0 L380.6 536.7 L381.6 537.2 L382.6 537.7 L383.6 538.2 L384.6 538.6 L385.6 538.9 L386.6 539.2 L387.6 539.5 L388.6 539.7 L389.6 539.9 L390.6 540.1 L391.6 540.2 L392.6 540.3 L393.6 540.3 L394.6 540.3 L395.6 540.2 L396.6 540.1 L397.6 540.0 L398.6 539.8 L399.6 539.5 L400.6 539.2 L401.6 538.8 L402.6 538.4 L403.6 537.9 L404.6 537.4 L405.6 536.9 L406.6 536.3 L407.6 535.7 L408.6 535.0 L409.6 534.4 L410.6 533.7 L411.6 532.9 L412.6 532.2 L413.6 531.5 L414.6 530.8 L415.6 530.1 L416.6 529.5 L417.6 528.9 L418.6 528.4 L419.6 528.0 L420.6 527.7 L421.6 527.4 L422.6 527.2 L423.6 527.1 L424.6 527.1 L425.6 527.2 L426.6 527.4 L427.6 527.7 L428.6 528.1 L429.6 528.6 L430.6 529.2 L431.6 529.9 L432.6 530.7 L433.6 531.7 L434.6 532.8 L435.6 534.1 L436.6 535.6 L437.6 537.2 L438.6 539.1 L439.6 541.2 L440.6 543.5 L441.6 546.0 L442.6 548.6 L443.6 551.3 L444.6 554.1 L445.6 557.0 L446.6 560.1 L447.6 563.3 L448.6 566.5 L449.6 569.9 L450.6 573.3 L451.6 576.8 L452.6 580.3 L453.6 584.0 L454.6 587.7 L455.6 591.4 L456.6 595.2 L457.6 599.0 L458.6 602.8 L459.6 606.5 L460.6 610.2 L461.6 613.7 L462.6 617.3 L463.6 620.8 L464.6 624.2 L465.6 627.6 L466.6 631.0 L467.6 634.3 L468.6 637.6 L469.6 640.9 L470.6 644.1 L471.6 647.2 L472.6 650.4 L473.6 653.5 L474.6 656.7 L475.6 660.0 L476.6 663.3 L477.6 666.7 L478.6 670.1 L479.6 673.5 L480.6 677.0 L481.6 680.4 L482.6 683.8 L483.6 687.1 L484.6 690.3 L485.6 693.3 L486.6 696.2 L487.6 699.0 L488.6 701.7 L489.6 704.3 L490.6 706.9 L491.6 709.4 L492.6 712.0 L493.6 714.5 L494.6 716.8 L495.6 718.9 L496.6 721.0 L497.6 723.1 L498.6 725.0 L499.6 726.9 L500.6 728.8 L501.6 730.5 L502.6 732.2 L503.6 733.8 L504.6 735.2 L505.6 736.5 L506.6 737.6 L507.6 738.7 L508.6 739.6 L509.6 740.6 L510.6 741.5 L511.6 742.5 L512.6 743.5 L513.6 744.4 L514.6 745.3 L515.6 746.0 L516.6 746.6 L517.6 747.2 L518.6 747.6 L519.6 748.0 L520.6 748.4 L521.6 748.9 L522.6 749.3 L523.6 749.9 L524.6 750.5 L525.6 751.1 L526.6 751.7 L527.6 752.3 L528.6 752.9 L529.6 753.4 L530.6 753.8 L531.6 754.2 L532.6 754.5 L533.6 754.7 L534.6 754.9 L535.6 755.1 L536.6 755.2 L537.6 755.3 L538.6 755.4 L539.6 755.5 L540.6 755.6 L541.6 755.7 L542.6 755.7 L543.6 755.8 L544.6 755.9 L545.6 755.9 L546.6 756.0 L547.6 756.1 L548.6 756.2 L549.6 756.3 L550.6 756.4 L551.6 756.5 L552.6 756.6 L553.6 756.7 L554.6 756.9 L555.6 757.0 L556.6 757.2 L557.6 757.3 L558.6 757.5 L559.6 757.7 L560.6 757.8 L561.6 758.0 L562.6 758.2 L563.6 758.3 L564.6 758.5 L565.6 758.7 L566.6 758.9 L567.6 759.0 L568.6 759.2 L569.6 759.4 L570.6 759.5 L571.6 759.7 L572.6 759.8 L573.6 760.0 L574.6 760.1 L575.6 760.3 L576.6 760.4 L577.6 760.5 L578.6 760.6 L579.6 760.8 L580.6 760.9 L581.6 761.0 L582.6 761.1 L583.6 761.2 L584.6 761.3 L585.6 761.4 L586.6 761.5 L587.6 761.6 L588.6 761.7 L589.6 761.7 L590.6 761.8 L591.6 761.9 L592.6 762.0 L593.6 762.0 L594.6 762.1 L595.6 762.1 L596.6 762.2 L597.6 762.3 L598.6 762.3 L599.6 762.4 L600.6 762.4 L601.6 762.5 L602.6 762.5 L603.6 762.6 L604.6 762.7 L605.6 762.7 L606.6 762.8 L607.6 762.8 L608.6 762.9 L609.6 763.0 L610.6 763.0 L611.6 763.1 L612.6 763.2 L613.6 763.3 L614.6 763.4 L615.6 763.5 L616.6 763.6 L617.6 763.7 L618.6 763.9 L619.6 764.0 L620.6 764.1 L621.6 764.3 L622.6 764.5 L623.6 764.6 L624.6 764.8 L625.6 765.0 L626.6 765.1 L627.6 765.3 L628.6 765.5 L629.6 765.6 L630.6 765.7 L631.6 765.9 L632.6 766.0 L633.6 766.1 L634.6 766.1 L635.6 766.2 L636.6 766.2 L637.6 766.2 L638.6 766.2 L639.6 766.1 L640.6 766.1 L641.6 766.0 L642.6 766.0 L643.6 765.9 L644.6 765.9 L645.6 765.8 L646.6 765.8 L647.6 765.8 L648.6 765.9 L649.6 765.9 L650.6 765.9 L651.6 766.0 L652.6 766.1 L653.6 766.1 L654.6 766.2 L655.6 766.3 L656.6 766.4 L657.6 766.5 L658.6 766.6 L659.6 766.8 L660.6 766.9 L661.6 767.0" fill="none" stroke="#ff0000" stroke-width="4.8" stroke-linejoin="round" stroke-linecap="butt"/>
<g stroke="#000" stroke-width="6" fill="none">
<path d="M346.3 66.9 V760"/>
<path d="M382.6 33.4 V256.5"/>
<path d="M427.1 112.4 V735.2"/>
</g>
<rect x="75.6" y="5.5" width="586" height="886.3" fill="none" stroke="#000" stroke-width="2.6"/>
<path d="M124.4 891.8 V884.8 M124.4 5.5 V12.5 M173.3 891.8 V878.9 M173.3 5.5 V18.4 M222.1 891.8 V884.8 M222.1 5.5 V12.5 M270.9 891.8 V878.9 M270.9 5.5 V18.4 M319.8 891.8 V884.8 M319.8 5.5 V12.5 M368.6 891.8 V878.9 M368.6 5.5 V18.4 M417.4 891.8 V884.8 M417.4 5.5 V12.5 M466.3 891.8 V878.9 M466.3 5.5 V18.4 M515.1 891.8 V884.8 M515.1 5.5 V12.5 M564.0 891.8 V878.9 M564.0 5.5 V18.4 M612.8 891.8 V884.8 M612.8 5.5 V12.5" stroke="#000" stroke-width="2.4" fill="none"/>
<g font-size="36"><text x="55.58" y="932.6">2</text><path d="M85.03 932.60 L90.00 932.60 L90.00 906.82 L86.40 906.82 Q84.24 909.92 78.41 912.62 L78.41 917.48 Q82.44 916.04 85.03 913.88 Z" fill="#000"/><text x="153.25" y="932.6">2</text><text x="173.27" y="932.6">0</text><path d="M260.36 932.60 L265.32 932.60 L265.32 906.82 L261.72 906.82 Q259.56 909.92 253.73 912.62 L253.73 917.48 Q257.76 916.04 260.36 913.88 Z" fill="#000"/><text x="270.94" y="932.6">9</text><path d="M358.03 932.60 L362.99 932.60 L362.99 906.82 L359.39 906.82 Q357.23 909.92 351.40 912.62 L351.40 917.48 Q355.43 916.04 358.03 913.88 Z" fill="#000"/><text x="368.61" y="932.6">8</text><path d="M455.70 932.60 L460.66 932.60 L460.66 906.82 L457.06 906.82 Q454.90 909.92 449.07 912.62 L449.07 917.48 Q453.10 916.04 455.70 913.88 Z" fill="#000"/><text x="466.28" y="932.6">7</text><path d="M553.37 932.60 L558.33 932.60 L558.33 906.82 L554.73 906.82 Q552.57 909.92 546.74 912.62 L546.74 917.48 Q550.77 916.04 553.37 913.88 Z" fill="#000"/><text x="563.95" y="932.6">6</text><path d="M651.04 932.60 L656.00 932.60 L656.00 906.82 L652.40 906.82 Q650.24 909.92 644.41 912.62 L644.41 917.48 Q648.44 916.04 651.04 913.88 Z" fill="#000"/><text x="661.62" y="932.6">5</text><text x="440" y="118" font-size="36">In-</text><path d="M493.42 118.00 L498.39 118.00 L498.39 92.22 L494.79 92.22 Q492.63 95.32 486.80 98.02 L486.80 102.88 Q490.83 101.44 493.42 99.28 Z" fill="#000"/><text x="524" y="432" font-size="36">MIST_</text><path d="M639.45 432.00 L644.42 432.00 L644.42 406.22 L640.82 406.22 Q638.66 409.32 632.83 412.02 L632.83 416.88 Q636.86 415.44 639.45 413.28 Z" fill="#000"/></g>
<text x="92.1" y="70.5" font-size="58">In 3<tspan font-style="italic">d</tspan></text>
<text x="276" y="77.5" font-size="36">In-2</text>
<text x="390" y="41.5" font-size="36">In-3</text>
<text x="524" y="198" font-size="36">MIST_2</text>
<rect x="610.5" y="435" width="19.8" height="4" fill="#000"/>
<rect x="610.5" y="200.9" width="19.8" height="4" fill="#000"/>
<text x="527" y="719" font-size="36"><tspan font-style="italic">a</tspan>-MIST</text>
<text x="138" y="1006.5" font-size="49" letter-spacing="-0.35">Binding Energy (eV)</text>
<text transform="translate(40.5 701.3) rotate(-90)" x="-3" y="0" font-size="50">Intensity (arb. unit)</text>
</svg>
</body></html>
